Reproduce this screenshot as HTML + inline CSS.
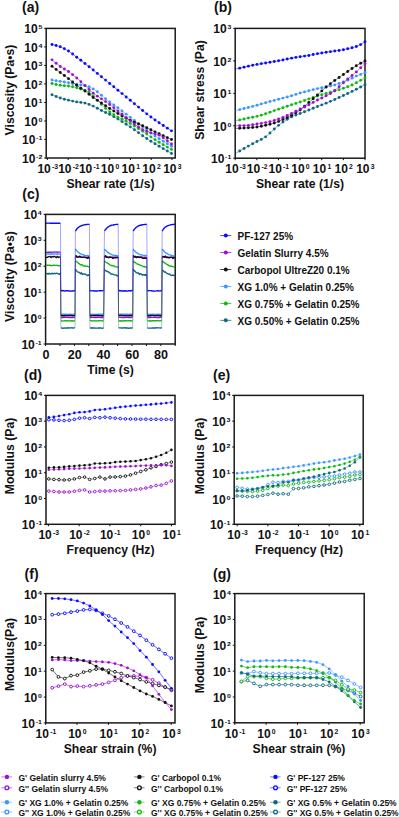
<!DOCTYPE html>
<html><head><meta charset="utf-8"><style>html,body{margin:0;padding:0;background:#fff;width:399px;height:817px;overflow:hidden}svg{display:block}</style></head>
<body>
<svg width="399" height="817" viewBox="0 0 399 817" font-family='"Liberation Sans", sans-serif' fill="#111">
<rect width="399" height="817" fill="#fff"/>
<text x="22.00" y="11.80" font-size="14" text-anchor="start" font-weight="bold" >(a)</text>
<text x="214.00" y="11.60" font-size="14" text-anchor="start" font-weight="bold" >(b)</text>
<text x="22.30" y="198.60" font-size="14" text-anchor="start" font-weight="bold" >(c)</text>
<text x="24.00" y="379.80" font-size="14" text-anchor="start" font-weight="bold" >(d)</text>
<text x="213.00" y="379.90" font-size="14" text-anchor="start" font-weight="bold" >(e)</text>
<text x="24.60" y="578.50" font-size="14" text-anchor="start" font-weight="bold" >(f)</text>
<text x="213.00" y="579.10" font-size="14" text-anchor="start" font-weight="bold" >(g)</text>
<rect x="46.20" y="28.40" width="129.00" height="129.60" fill="none" stroke="#1a1a1a" stroke-width="1.5"/>
<line x1="44.20" y1="158.00" x2="46.20" y2="158.00" stroke="#111" stroke-width="1"/>
<text transform="translate(35.38,163.00) scale(1.0,1)" font-size="12" text-anchor="end" font-weight="bold">10</text>
<text transform="translate(42.30,159.00) scale(1,0.72)" font-size="7" text-anchor="end" font-weight="bold">-2</text>
<line x1="44.20" y1="139.49" x2="46.20" y2="139.49" stroke="#111" stroke-width="1"/>
<text transform="translate(35.38,144.49) scale(1.0,1)" font-size="12" text-anchor="end" font-weight="bold">10</text>
<text transform="translate(42.30,140.49) scale(1,0.72)" font-size="7" text-anchor="end" font-weight="bold">-1</text>
<line x1="44.20" y1="120.97" x2="46.20" y2="120.97" stroke="#111" stroke-width="1"/>
<text transform="translate(37.71,125.97) scale(1.0,1)" font-size="12" text-anchor="end" font-weight="bold">10</text>
<text transform="translate(42.30,121.97) scale(1,0.72)" font-size="7" text-anchor="end" font-weight="bold">0</text>
<line x1="44.20" y1="102.46" x2="46.20" y2="102.46" stroke="#111" stroke-width="1"/>
<text transform="translate(37.71,107.46) scale(1.0,1)" font-size="12" text-anchor="end" font-weight="bold">10</text>
<text transform="translate(42.30,103.46) scale(1,0.72)" font-size="7" text-anchor="end" font-weight="bold">1</text>
<line x1="44.20" y1="83.94" x2="46.20" y2="83.94" stroke="#111" stroke-width="1"/>
<text transform="translate(37.71,88.94) scale(1.0,1)" font-size="12" text-anchor="end" font-weight="bold">10</text>
<text transform="translate(42.30,84.94) scale(1,0.72)" font-size="7" text-anchor="end" font-weight="bold">2</text>
<line x1="44.20" y1="65.43" x2="46.20" y2="65.43" stroke="#111" stroke-width="1"/>
<text transform="translate(37.71,70.43) scale(1.0,1)" font-size="12" text-anchor="end" font-weight="bold">10</text>
<text transform="translate(42.30,66.43) scale(1,0.72)" font-size="7" text-anchor="end" font-weight="bold">3</text>
<line x1="44.20" y1="46.91" x2="46.20" y2="46.91" stroke="#111" stroke-width="1"/>
<text transform="translate(37.71,51.91) scale(1.0,1)" font-size="12" text-anchor="end" font-weight="bold">10</text>
<text transform="translate(42.30,47.91) scale(1,0.72)" font-size="7" text-anchor="end" font-weight="bold">4</text>
<line x1="44.20" y1="28.40" x2="46.20" y2="28.40" stroke="#111" stroke-width="1"/>
<text transform="translate(37.71,33.40) scale(1.0,1)" font-size="12" text-anchor="end" font-weight="bold">10</text>
<text transform="translate(42.30,29.40) scale(1,0.72)" font-size="7" text-anchor="end" font-weight="bold">5</text>
<line x1="47.40" y1="158.00" x2="47.40" y2="160.00" stroke="#111" stroke-width="1"/>
<text transform="translate(37.41,172.85) scale(1.0,1)" font-size="12" font-weight="bold">10</text>
<text transform="translate(51.95,169.10) scale(1,0.95)" font-size="6.8" font-weight="bold">-3</text>
<line x1="68.17" y1="158.00" x2="68.17" y2="160.00" stroke="#111" stroke-width="1"/>
<text transform="translate(58.17,172.85) scale(1.0,1)" font-size="12" font-weight="bold">10</text>
<text transform="translate(72.72,169.10) scale(1,0.95)" font-size="6.8" font-weight="bold">-2</text>
<line x1="88.93" y1="158.00" x2="88.93" y2="160.00" stroke="#111" stroke-width="1"/>
<text transform="translate(78.94,172.85) scale(1.0,1)" font-size="12" font-weight="bold">10</text>
<text transform="translate(93.48,169.10) scale(1,0.95)" font-size="6.8" font-weight="bold">-1</text>
<line x1="109.70" y1="158.00" x2="109.70" y2="160.00" stroke="#111" stroke-width="1"/>
<text transform="translate(100.84,172.85) scale(1.0,1)" font-size="12" font-weight="bold">10</text>
<text transform="translate(115.38,169.10) scale(1,0.95)" font-size="6.8" font-weight="bold">0</text>
<line x1="130.47" y1="158.00" x2="130.47" y2="160.00" stroke="#111" stroke-width="1"/>
<text transform="translate(121.60,172.85) scale(1.0,1)" font-size="12" font-weight="bold">10</text>
<text transform="translate(136.15,169.10) scale(1,0.95)" font-size="6.8" font-weight="bold">1</text>
<line x1="151.23" y1="158.00" x2="151.23" y2="160.00" stroke="#111" stroke-width="1"/>
<text transform="translate(142.37,172.85) scale(1.0,1)" font-size="12" font-weight="bold">10</text>
<text transform="translate(156.91,169.10) scale(1,0.95)" font-size="6.8" font-weight="bold">2</text>
<line x1="172.00" y1="158.00" x2="172.00" y2="160.00" stroke="#111" stroke-width="1"/>
<text transform="translate(163.14,172.85) scale(1.0,1)" font-size="12" font-weight="bold">10</text>
<text transform="translate(177.68,169.10) scale(1,0.95)" font-size="6.8" font-weight="bold">3</text>
<text transform="translate(14.30,90.00) rotate(-90)" font-size="12.2" text-anchor="middle" font-weight="bold">Viscosity (Pa•s)</text>
<text x="110.50" y="188.00" font-size="12.2" text-anchor="middle" font-weight="bold" >Shear rate (1/s)</text>
<path d="M52.00,94.72 L56.12,96.45 L60.24,98.01 L64.36,99.18 L68.48,100.15 L72.60,101.09 L76.72,101.90 L80.84,102.42 L84.96,103.12 L89.08,104.42 L93.20,106.11 L97.32,108.26 L101.44,110.57 L105.56,112.43 L109.68,114.31 L113.80,116.65 L117.92,119.09 L122.04,121.60 L126.16,124.18 L130.28,126.83 L134.40,129.68 L138.52,132.79 L142.64,135.81 L146.76,138.57 L150.88,141.18 L155.00,143.72 L159.12,146.21 L163.24,148.65 L167.36,151.07 L171.48,153.49" fill="none" stroke="#0f6680" stroke-width="0.6" opacity="0.85"/>
<circle cx="52.00" cy="94.72" r="1.45" fill="#0f6680"/>
<circle cx="56.12" cy="96.45" r="1.45" fill="#0f6680"/>
<circle cx="60.24" cy="98.01" r="1.45" fill="#0f6680"/>
<circle cx="64.36" cy="99.18" r="1.45" fill="#0f6680"/>
<circle cx="68.48" cy="100.15" r="1.45" fill="#0f6680"/>
<circle cx="72.60" cy="101.09" r="1.45" fill="#0f6680"/>
<circle cx="76.72" cy="101.90" r="1.45" fill="#0f6680"/>
<circle cx="80.84" cy="102.42" r="1.45" fill="#0f6680"/>
<circle cx="84.96" cy="103.12" r="1.45" fill="#0f6680"/>
<circle cx="89.08" cy="104.42" r="1.45" fill="#0f6680"/>
<circle cx="93.20" cy="106.11" r="1.45" fill="#0f6680"/>
<circle cx="97.32" cy="108.26" r="1.45" fill="#0f6680"/>
<circle cx="101.44" cy="110.57" r="1.45" fill="#0f6680"/>
<circle cx="105.56" cy="112.43" r="1.45" fill="#0f6680"/>
<circle cx="109.68" cy="114.31" r="1.45" fill="#0f6680"/>
<circle cx="113.80" cy="116.65" r="1.45" fill="#0f6680"/>
<circle cx="117.92" cy="119.09" r="1.45" fill="#0f6680"/>
<circle cx="122.04" cy="121.60" r="1.45" fill="#0f6680"/>
<circle cx="126.16" cy="124.18" r="1.45" fill="#0f6680"/>
<circle cx="130.28" cy="126.83" r="1.45" fill="#0f6680"/>
<circle cx="134.40" cy="129.68" r="1.45" fill="#0f6680"/>
<circle cx="138.52" cy="132.79" r="1.45" fill="#0f6680"/>
<circle cx="142.64" cy="135.81" r="1.45" fill="#0f6680"/>
<circle cx="146.76" cy="138.57" r="1.45" fill="#0f6680"/>
<circle cx="150.88" cy="141.18" r="1.45" fill="#0f6680"/>
<circle cx="155.00" cy="143.72" r="1.45" fill="#0f6680"/>
<circle cx="159.12" cy="146.21" r="1.45" fill="#0f6680"/>
<circle cx="163.24" cy="148.65" r="1.45" fill="#0f6680"/>
<circle cx="167.36" cy="151.07" r="1.45" fill="#0f6680"/>
<circle cx="171.48" cy="153.49" r="1.45" fill="#0f6680"/>
<path d="M52.00,83.47 L56.12,84.46 L60.24,85.31 L64.36,85.70 L68.48,86.07 L72.60,86.81 L76.72,87.81 L80.84,89.03 L84.96,90.42 L89.08,92.08 L93.20,95.93 L97.32,100.12 L101.44,104.37 L105.56,108.39 L109.68,111.88 L113.80,114.72 L117.92,117.08 L122.04,119.20 L126.16,121.26 L130.28,123.48 L134.40,125.98 L138.52,128.63 L142.64,131.33 L146.76,134.07 L150.88,136.87 L155.00,139.65 L159.12,142.32 L163.24,144.79 L167.36,147.11 L171.48,149.40" fill="none" stroke="#10b810" stroke-width="0.6" opacity="0.85"/>
<circle cx="52.00" cy="83.47" r="1.45" fill="#10b810"/>
<circle cx="56.12" cy="84.46" r="1.45" fill="#10b810"/>
<circle cx="60.24" cy="85.31" r="1.45" fill="#10b810"/>
<circle cx="64.36" cy="85.70" r="1.45" fill="#10b810"/>
<circle cx="68.48" cy="86.07" r="1.45" fill="#10b810"/>
<circle cx="72.60" cy="86.81" r="1.45" fill="#10b810"/>
<circle cx="76.72" cy="87.81" r="1.45" fill="#10b810"/>
<circle cx="80.84" cy="89.03" r="1.45" fill="#10b810"/>
<circle cx="84.96" cy="90.42" r="1.45" fill="#10b810"/>
<circle cx="89.08" cy="92.08" r="1.45" fill="#10b810"/>
<circle cx="93.20" cy="95.93" r="1.45" fill="#10b810"/>
<circle cx="97.32" cy="100.12" r="1.45" fill="#10b810"/>
<circle cx="101.44" cy="104.37" r="1.45" fill="#10b810"/>
<circle cx="105.56" cy="108.39" r="1.45" fill="#10b810"/>
<circle cx="109.68" cy="111.88" r="1.45" fill="#10b810"/>
<circle cx="113.80" cy="114.72" r="1.45" fill="#10b810"/>
<circle cx="117.92" cy="117.08" r="1.45" fill="#10b810"/>
<circle cx="122.04" cy="119.20" r="1.45" fill="#10b810"/>
<circle cx="126.16" cy="121.26" r="1.45" fill="#10b810"/>
<circle cx="130.28" cy="123.48" r="1.45" fill="#10b810"/>
<circle cx="134.40" cy="125.98" r="1.45" fill="#10b810"/>
<circle cx="138.52" cy="128.63" r="1.45" fill="#10b810"/>
<circle cx="142.64" cy="131.33" r="1.45" fill="#10b810"/>
<circle cx="146.76" cy="134.07" r="1.45" fill="#10b810"/>
<circle cx="150.88" cy="136.87" r="1.45" fill="#10b810"/>
<circle cx="155.00" cy="139.65" r="1.45" fill="#10b810"/>
<circle cx="159.12" cy="142.32" r="1.45" fill="#10b810"/>
<circle cx="163.24" cy="144.79" r="1.45" fill="#10b810"/>
<circle cx="167.36" cy="147.11" r="1.45" fill="#10b810"/>
<circle cx="171.48" cy="149.40" r="1.45" fill="#10b810"/>
<path d="M52.00,80.05 L56.12,80.73 L60.24,81.41 L64.36,82.02 L68.48,82.66 L72.60,83.48 L76.72,84.30 L80.84,84.93 L84.96,85.61 L89.08,86.79 L93.20,88.88 L97.32,91.80 L101.44,95.20 L105.56,98.70 L109.68,101.99 L113.80,104.90 L117.92,107.79 L122.04,110.93 L126.16,114.15 L130.28,117.35 L134.40,120.50 L138.52,123.67 L142.64,126.84 L146.76,129.97 L150.88,133.03 L155.00,135.99 L159.12,138.75 L163.24,141.31 L167.36,143.78 L171.48,146.28" fill="none" stroke="#3c96ff" stroke-width="0.6" opacity="0.85"/>
<circle cx="52.00" cy="80.05" r="1.45" fill="#3c96ff"/>
<circle cx="56.12" cy="80.73" r="1.45" fill="#3c96ff"/>
<circle cx="60.24" cy="81.41" r="1.45" fill="#3c96ff"/>
<circle cx="64.36" cy="82.02" r="1.45" fill="#3c96ff"/>
<circle cx="68.48" cy="82.66" r="1.45" fill="#3c96ff"/>
<circle cx="72.60" cy="83.48" r="1.45" fill="#3c96ff"/>
<circle cx="76.72" cy="84.30" r="1.45" fill="#3c96ff"/>
<circle cx="80.84" cy="84.93" r="1.45" fill="#3c96ff"/>
<circle cx="84.96" cy="85.61" r="1.45" fill="#3c96ff"/>
<circle cx="89.08" cy="86.79" r="1.45" fill="#3c96ff"/>
<circle cx="93.20" cy="88.88" r="1.45" fill="#3c96ff"/>
<circle cx="97.32" cy="91.80" r="1.45" fill="#3c96ff"/>
<circle cx="101.44" cy="95.20" r="1.45" fill="#3c96ff"/>
<circle cx="105.56" cy="98.70" r="1.45" fill="#3c96ff"/>
<circle cx="109.68" cy="101.99" r="1.45" fill="#3c96ff"/>
<circle cx="113.80" cy="104.90" r="1.45" fill="#3c96ff"/>
<circle cx="117.92" cy="107.79" r="1.45" fill="#3c96ff"/>
<circle cx="122.04" cy="110.93" r="1.45" fill="#3c96ff"/>
<circle cx="126.16" cy="114.15" r="1.45" fill="#3c96ff"/>
<circle cx="130.28" cy="117.35" r="1.45" fill="#3c96ff"/>
<circle cx="134.40" cy="120.50" r="1.45" fill="#3c96ff"/>
<circle cx="138.52" cy="123.67" r="1.45" fill="#3c96ff"/>
<circle cx="142.64" cy="126.84" r="1.45" fill="#3c96ff"/>
<circle cx="146.76" cy="129.97" r="1.45" fill="#3c96ff"/>
<circle cx="150.88" cy="133.03" r="1.45" fill="#3c96ff"/>
<circle cx="155.00" cy="135.99" r="1.45" fill="#3c96ff"/>
<circle cx="159.12" cy="138.75" r="1.45" fill="#3c96ff"/>
<circle cx="163.24" cy="141.31" r="1.45" fill="#3c96ff"/>
<circle cx="167.36" cy="143.78" r="1.45" fill="#3c96ff"/>
<circle cx="171.48" cy="146.28" r="1.45" fill="#3c96ff"/>
<path d="M52.00,66.23 L56.12,69.39 L60.24,72.53 L64.36,75.56 L68.48,78.63 L72.60,81.99 L76.72,85.31 L80.84,88.15 L84.96,90.97 L89.08,94.27 L93.20,97.55 L97.32,100.36 L101.44,103.00 L105.56,105.77 L109.68,108.49 L113.80,111.04 L117.92,113.53 L122.04,115.94 L126.16,118.19 L130.28,120.26 L134.40,122.14 L138.52,123.92 L142.64,125.74 L146.76,127.73 L150.88,129.81 L155.00,131.86 L159.12,133.81 L163.24,135.73 L167.36,137.64 L171.48,139.56" fill="none" stroke="#111111" stroke-width="0.6" opacity="0.85"/>
<circle cx="52.00" cy="66.23" r="1.45" fill="#111111"/>
<circle cx="56.12" cy="69.39" r="1.45" fill="#111111"/>
<circle cx="60.24" cy="72.53" r="1.45" fill="#111111"/>
<circle cx="64.36" cy="75.56" r="1.45" fill="#111111"/>
<circle cx="68.48" cy="78.63" r="1.45" fill="#111111"/>
<circle cx="72.60" cy="81.99" r="1.45" fill="#111111"/>
<circle cx="76.72" cy="85.31" r="1.45" fill="#111111"/>
<circle cx="80.84" cy="88.15" r="1.45" fill="#111111"/>
<circle cx="84.96" cy="90.97" r="1.45" fill="#111111"/>
<circle cx="89.08" cy="94.27" r="1.45" fill="#111111"/>
<circle cx="93.20" cy="97.55" r="1.45" fill="#111111"/>
<circle cx="97.32" cy="100.36" r="1.45" fill="#111111"/>
<circle cx="101.44" cy="103.00" r="1.45" fill="#111111"/>
<circle cx="105.56" cy="105.77" r="1.45" fill="#111111"/>
<circle cx="109.68" cy="108.49" r="1.45" fill="#111111"/>
<circle cx="113.80" cy="111.04" r="1.45" fill="#111111"/>
<circle cx="117.92" cy="113.53" r="1.45" fill="#111111"/>
<circle cx="122.04" cy="115.94" r="1.45" fill="#111111"/>
<circle cx="126.16" cy="118.19" r="1.45" fill="#111111"/>
<circle cx="130.28" cy="120.26" r="1.45" fill="#111111"/>
<circle cx="134.40" cy="122.14" r="1.45" fill="#111111"/>
<circle cx="138.52" cy="123.92" r="1.45" fill="#111111"/>
<circle cx="142.64" cy="125.74" r="1.45" fill="#111111"/>
<circle cx="146.76" cy="127.73" r="1.45" fill="#111111"/>
<circle cx="150.88" cy="129.81" r="1.45" fill="#111111"/>
<circle cx="155.00" cy="131.86" r="1.45" fill="#111111"/>
<circle cx="159.12" cy="133.81" r="1.45" fill="#111111"/>
<circle cx="163.24" cy="135.73" r="1.45" fill="#111111"/>
<circle cx="167.36" cy="137.64" r="1.45" fill="#111111"/>
<circle cx="171.48" cy="139.56" r="1.45" fill="#111111"/>
<path d="M52.00,59.84 L56.12,63.23 L60.24,66.43 L64.36,69.01 L68.48,71.55 L72.60,74.62 L76.72,78.02 L80.84,81.72 L84.96,85.56 L89.08,89.49 L93.20,93.15 L97.32,96.13 L101.44,98.86 L105.56,101.58 L109.68,104.49 L113.80,107.65 L117.92,110.95 L122.04,114.30 L126.16,117.62 L130.28,120.85 L134.40,123.96 L138.52,126.93 L142.64,129.58 L146.76,131.52 L150.88,132.86 L155.00,133.86 L159.12,135.15 L163.24,137.73 L167.36,140.80 L171.48,143.93" fill="none" stroke="#9a10d0" stroke-width="0.6" opacity="0.85"/>
<circle cx="52.00" cy="59.84" r="1.45" fill="#9a10d0"/>
<circle cx="56.12" cy="63.23" r="1.45" fill="#9a10d0"/>
<circle cx="60.24" cy="66.43" r="1.45" fill="#9a10d0"/>
<circle cx="64.36" cy="69.01" r="1.45" fill="#9a10d0"/>
<circle cx="68.48" cy="71.55" r="1.45" fill="#9a10d0"/>
<circle cx="72.60" cy="74.62" r="1.45" fill="#9a10d0"/>
<circle cx="76.72" cy="78.02" r="1.45" fill="#9a10d0"/>
<circle cx="80.84" cy="81.72" r="1.45" fill="#9a10d0"/>
<circle cx="84.96" cy="85.56" r="1.45" fill="#9a10d0"/>
<circle cx="89.08" cy="89.49" r="1.45" fill="#9a10d0"/>
<circle cx="93.20" cy="93.15" r="1.45" fill="#9a10d0"/>
<circle cx="97.32" cy="96.13" r="1.45" fill="#9a10d0"/>
<circle cx="101.44" cy="98.86" r="1.45" fill="#9a10d0"/>
<circle cx="105.56" cy="101.58" r="1.45" fill="#9a10d0"/>
<circle cx="109.68" cy="104.49" r="1.45" fill="#9a10d0"/>
<circle cx="113.80" cy="107.65" r="1.45" fill="#9a10d0"/>
<circle cx="117.92" cy="110.95" r="1.45" fill="#9a10d0"/>
<circle cx="122.04" cy="114.30" r="1.45" fill="#9a10d0"/>
<circle cx="126.16" cy="117.62" r="1.45" fill="#9a10d0"/>
<circle cx="130.28" cy="120.85" r="1.45" fill="#9a10d0"/>
<circle cx="134.40" cy="123.96" r="1.45" fill="#9a10d0"/>
<circle cx="138.52" cy="126.93" r="1.45" fill="#9a10d0"/>
<circle cx="142.64" cy="129.58" r="1.45" fill="#9a10d0"/>
<circle cx="146.76" cy="131.52" r="1.45" fill="#9a10d0"/>
<circle cx="150.88" cy="132.86" r="1.45" fill="#9a10d0"/>
<circle cx="155.00" cy="133.86" r="1.45" fill="#9a10d0"/>
<circle cx="159.12" cy="135.15" r="1.45" fill="#9a10d0"/>
<circle cx="163.24" cy="137.73" r="1.45" fill="#9a10d0"/>
<circle cx="167.36" cy="140.80" r="1.45" fill="#9a10d0"/>
<circle cx="171.48" cy="143.93" r="1.45" fill="#9a10d0"/>
<path d="M52.00,44.48 L56.12,45.52 L60.24,46.82 L64.36,48.71 L68.48,51.06 L72.60,54.00 L76.72,57.22 L80.84,60.31 L84.96,63.47 L89.08,66.74 L93.20,70.05 L97.32,73.38 L101.44,76.73 L105.56,80.08 L109.68,83.45 L113.80,86.82 L117.92,90.20 L122.04,93.58 L126.16,96.95 L130.28,100.31 L134.40,103.69 L138.52,107.11 L142.64,110.51 L146.76,113.83 L150.88,116.99 L155.00,119.95 L159.12,122.76 L163.24,125.46 L167.36,128.14 L171.48,130.85" fill="none" stroke="#0a0aff" stroke-width="0.6" opacity="0.85"/>
<circle cx="52.00" cy="44.48" r="1.45" fill="#0a0aff"/>
<circle cx="56.12" cy="45.52" r="1.45" fill="#0a0aff"/>
<circle cx="60.24" cy="46.82" r="1.45" fill="#0a0aff"/>
<circle cx="64.36" cy="48.71" r="1.45" fill="#0a0aff"/>
<circle cx="68.48" cy="51.06" r="1.45" fill="#0a0aff"/>
<circle cx="72.60" cy="54.00" r="1.45" fill="#0a0aff"/>
<circle cx="76.72" cy="57.22" r="1.45" fill="#0a0aff"/>
<circle cx="80.84" cy="60.31" r="1.45" fill="#0a0aff"/>
<circle cx="84.96" cy="63.47" r="1.45" fill="#0a0aff"/>
<circle cx="89.08" cy="66.74" r="1.45" fill="#0a0aff"/>
<circle cx="93.20" cy="70.05" r="1.45" fill="#0a0aff"/>
<circle cx="97.32" cy="73.38" r="1.45" fill="#0a0aff"/>
<circle cx="101.44" cy="76.73" r="1.45" fill="#0a0aff"/>
<circle cx="105.56" cy="80.08" r="1.45" fill="#0a0aff"/>
<circle cx="109.68" cy="83.45" r="1.45" fill="#0a0aff"/>
<circle cx="113.80" cy="86.82" r="1.45" fill="#0a0aff"/>
<circle cx="117.92" cy="90.20" r="1.45" fill="#0a0aff"/>
<circle cx="122.04" cy="93.58" r="1.45" fill="#0a0aff"/>
<circle cx="126.16" cy="96.95" r="1.45" fill="#0a0aff"/>
<circle cx="130.28" cy="100.31" r="1.45" fill="#0a0aff"/>
<circle cx="134.40" cy="103.69" r="1.45" fill="#0a0aff"/>
<circle cx="138.52" cy="107.11" r="1.45" fill="#0a0aff"/>
<circle cx="142.64" cy="110.51" r="1.45" fill="#0a0aff"/>
<circle cx="146.76" cy="113.83" r="1.45" fill="#0a0aff"/>
<circle cx="150.88" cy="116.99" r="1.45" fill="#0a0aff"/>
<circle cx="155.00" cy="119.95" r="1.45" fill="#0a0aff"/>
<circle cx="159.12" cy="122.76" r="1.45" fill="#0a0aff"/>
<circle cx="163.24" cy="125.46" r="1.45" fill="#0a0aff"/>
<circle cx="167.36" cy="128.14" r="1.45" fill="#0a0aff"/>
<circle cx="171.48" cy="130.85" r="1.45" fill="#0a0aff"/>
<rect x="235.20" y="28.40" width="129.80" height="129.80" fill="none" stroke="#1a1a1a" stroke-width="1.5"/>
<line x1="233.20" y1="158.20" x2="235.20" y2="158.20" stroke="#111" stroke-width="1"/>
<text transform="translate(224.38,163.20) scale(1.0,1)" font-size="12" text-anchor="end" font-weight="bold">10</text>
<text transform="translate(231.30,159.20) scale(1,0.72)" font-size="7" text-anchor="end" font-weight="bold">-1</text>
<line x1="233.20" y1="125.75" x2="235.20" y2="125.75" stroke="#111" stroke-width="1"/>
<text transform="translate(226.71,130.75) scale(1.0,1)" font-size="12" text-anchor="end" font-weight="bold">10</text>
<text transform="translate(231.30,126.75) scale(1,0.72)" font-size="7" text-anchor="end" font-weight="bold">0</text>
<line x1="233.20" y1="93.30" x2="235.20" y2="93.30" stroke="#111" stroke-width="1"/>
<text transform="translate(226.71,98.30) scale(1.0,1)" font-size="12" text-anchor="end" font-weight="bold">10</text>
<text transform="translate(231.30,94.30) scale(1,0.72)" font-size="7" text-anchor="end" font-weight="bold">1</text>
<line x1="233.20" y1="60.85" x2="235.20" y2="60.85" stroke="#111" stroke-width="1"/>
<text transform="translate(226.71,65.85) scale(1.0,1)" font-size="12" text-anchor="end" font-weight="bold">10</text>
<text transform="translate(231.30,61.85) scale(1,0.72)" font-size="7" text-anchor="end" font-weight="bold">2</text>
<line x1="233.20" y1="28.40" x2="235.20" y2="28.40" stroke="#111" stroke-width="1"/>
<text transform="translate(226.71,33.40) scale(1.0,1)" font-size="12" text-anchor="end" font-weight="bold">10</text>
<text transform="translate(231.30,29.40) scale(1,0.72)" font-size="7" text-anchor="end" font-weight="bold">3</text>
<line x1="235.20" y1="158.20" x2="235.20" y2="160.20" stroke="#111" stroke-width="1"/>
<text transform="translate(225.21,173.05) scale(1.0,1)" font-size="12" font-weight="bold">10</text>
<text transform="translate(239.75,169.30) scale(1,0.95)" font-size="6.8" font-weight="bold">-3</text>
<line x1="256.83" y1="158.20" x2="256.83" y2="160.20" stroke="#111" stroke-width="1"/>
<text transform="translate(246.84,173.05) scale(1.0,1)" font-size="12" font-weight="bold">10</text>
<text transform="translate(261.38,169.30) scale(1,0.95)" font-size="6.8" font-weight="bold">-2</text>
<line x1="278.47" y1="158.20" x2="278.47" y2="160.20" stroke="#111" stroke-width="1"/>
<text transform="translate(268.47,173.05) scale(1.0,1)" font-size="12" font-weight="bold">10</text>
<text transform="translate(283.02,169.30) scale(1,0.95)" font-size="6.8" font-weight="bold">-1</text>
<line x1="300.10" y1="158.20" x2="300.10" y2="160.20" stroke="#111" stroke-width="1"/>
<text transform="translate(291.24,173.05) scale(1.0,1)" font-size="12" font-weight="bold">10</text>
<text transform="translate(305.78,169.30) scale(1,0.95)" font-size="6.8" font-weight="bold">0</text>
<line x1="321.73" y1="158.20" x2="321.73" y2="160.20" stroke="#111" stroke-width="1"/>
<text transform="translate(312.87,173.05) scale(1.0,1)" font-size="12" font-weight="bold">10</text>
<text transform="translate(327.41,169.30) scale(1,0.95)" font-size="6.8" font-weight="bold">1</text>
<line x1="343.37" y1="158.20" x2="343.37" y2="160.20" stroke="#111" stroke-width="1"/>
<text transform="translate(334.50,173.05) scale(1.0,1)" font-size="12" font-weight="bold">10</text>
<text transform="translate(349.05,169.30) scale(1,0.95)" font-size="6.8" font-weight="bold">2</text>
<line x1="365.00" y1="158.20" x2="365.00" y2="160.20" stroke="#111" stroke-width="1"/>
<text transform="translate(356.14,173.05) scale(1.0,1)" font-size="12" font-weight="bold">10</text>
<text transform="translate(370.68,169.30) scale(1,0.95)" font-size="6.8" font-weight="bold">3</text>
<text transform="translate(204.00,90.00) rotate(-90)" font-size="12.2" text-anchor="middle" font-weight="bold">Shear stress (Pa)</text>
<text x="300.00" y="188.20" font-size="12.2" text-anchor="middle" font-weight="bold" >Shear rate (1/s)</text>
<line x1="235.4" y1="153.44" x2="239.72" y2="150.99" stroke="#0f6680" stroke-width="0.6" opacity="0.85"/>
<path d="M239.72,150.99 L244.04,148.54 L248.36,146.11 L252.68,143.75 L257.00,141.44 L261.32,139.40 L265.64,136.85 L269.96,133.00 L274.28,128.96 L278.60,125.37 L282.92,122.12 L287.24,119.31 L291.56,116.92 L295.88,115.08 L300.20,113.48 L304.52,111.74 L308.84,110.00 L313.16,108.28 L317.48,106.57 L321.80,104.86 L326.12,103.14 L330.44,101.37 L334.76,99.51 L339.08,97.54 L343.40,95.53 L347.72,93.49 L352.04,91.39 L356.36,89.22 L360.68,87.01 L365.00,84.80" fill="none" stroke="#0f6680" stroke-width="0.6" opacity="0.85"/>
<circle cx="239.72" cy="150.99" r="1.45" fill="#0f6680"/>
<circle cx="244.04" cy="148.54" r="1.45" fill="#0f6680"/>
<circle cx="248.36" cy="146.11" r="1.45" fill="#0f6680"/>
<circle cx="252.68" cy="143.75" r="1.45" fill="#0f6680"/>
<circle cx="257.00" cy="141.44" r="1.45" fill="#0f6680"/>
<circle cx="261.32" cy="139.40" r="1.45" fill="#0f6680"/>
<circle cx="265.64" cy="136.85" r="1.45" fill="#0f6680"/>
<circle cx="269.96" cy="133.00" r="1.45" fill="#0f6680"/>
<circle cx="274.28" cy="128.96" r="1.45" fill="#0f6680"/>
<circle cx="278.60" cy="125.37" r="1.45" fill="#0f6680"/>
<circle cx="282.92" cy="122.12" r="1.45" fill="#0f6680"/>
<circle cx="287.24" cy="119.31" r="1.45" fill="#0f6680"/>
<circle cx="291.56" cy="116.92" r="1.45" fill="#0f6680"/>
<circle cx="295.88" cy="115.08" r="1.45" fill="#0f6680"/>
<circle cx="300.20" cy="113.48" r="1.45" fill="#0f6680"/>
<circle cx="304.52" cy="111.74" r="1.45" fill="#0f6680"/>
<circle cx="308.84" cy="110.00" r="1.45" fill="#0f6680"/>
<circle cx="313.16" cy="108.28" r="1.45" fill="#0f6680"/>
<circle cx="317.48" cy="106.57" r="1.45" fill="#0f6680"/>
<circle cx="321.80" cy="104.86" r="1.45" fill="#0f6680"/>
<circle cx="326.12" cy="103.14" r="1.45" fill="#0f6680"/>
<circle cx="330.44" cy="101.37" r="1.45" fill="#0f6680"/>
<circle cx="334.76" cy="99.51" r="1.45" fill="#0f6680"/>
<circle cx="339.08" cy="97.54" r="1.45" fill="#0f6680"/>
<circle cx="343.40" cy="95.53" r="1.45" fill="#0f6680"/>
<circle cx="347.72" cy="93.49" r="1.45" fill="#0f6680"/>
<circle cx="352.04" cy="91.39" r="1.45" fill="#0f6680"/>
<circle cx="356.36" cy="89.22" r="1.45" fill="#0f6680"/>
<circle cx="360.68" cy="87.01" r="1.45" fill="#0f6680"/>
<circle cx="365.00" cy="84.80" r="1.45" fill="#0f6680"/>
<line x1="235.4" y1="120.82" x2="239.72" y2="119.90" stroke="#10b810" stroke-width="0.6" opacity="0.85"/>
<path d="M239.72,119.90 L244.04,118.97 L248.36,118.07 L252.68,117.25 L257.00,116.33 L261.32,115.13 L265.64,113.75 L269.96,112.18 L274.28,110.60 L278.60,109.14 L282.92,107.69 L287.24,106.20 L291.56,104.75 L295.88,103.42 L300.20,102.03 L304.52,100.50 L308.84,98.92 L313.16,97.38 L317.48,95.95 L321.80,94.68 L326.12,93.50 L330.44,92.30 L334.76,91.00 L339.08,89.66 L343.40,88.28 L347.72,86.74 L352.04,84.95 L356.36,82.77 L360.68,80.37 L365.00,78.00" fill="none" stroke="#10b810" stroke-width="0.6" opacity="0.85"/>
<circle cx="239.72" cy="119.90" r="1.45" fill="#10b810"/>
<circle cx="244.04" cy="118.97" r="1.45" fill="#10b810"/>
<circle cx="248.36" cy="118.07" r="1.45" fill="#10b810"/>
<circle cx="252.68" cy="117.25" r="1.45" fill="#10b810"/>
<circle cx="257.00" cy="116.33" r="1.45" fill="#10b810"/>
<circle cx="261.32" cy="115.13" r="1.45" fill="#10b810"/>
<circle cx="265.64" cy="113.75" r="1.45" fill="#10b810"/>
<circle cx="269.96" cy="112.18" r="1.45" fill="#10b810"/>
<circle cx="274.28" cy="110.60" r="1.45" fill="#10b810"/>
<circle cx="278.60" cy="109.14" r="1.45" fill="#10b810"/>
<circle cx="282.92" cy="107.69" r="1.45" fill="#10b810"/>
<circle cx="287.24" cy="106.20" r="1.45" fill="#10b810"/>
<circle cx="291.56" cy="104.75" r="1.45" fill="#10b810"/>
<circle cx="295.88" cy="103.42" r="1.45" fill="#10b810"/>
<circle cx="300.20" cy="102.03" r="1.45" fill="#10b810"/>
<circle cx="304.52" cy="100.50" r="1.45" fill="#10b810"/>
<circle cx="308.84" cy="98.92" r="1.45" fill="#10b810"/>
<circle cx="313.16" cy="97.38" r="1.45" fill="#10b810"/>
<circle cx="317.48" cy="95.95" r="1.45" fill="#10b810"/>
<circle cx="321.80" cy="94.68" r="1.45" fill="#10b810"/>
<circle cx="326.12" cy="93.50" r="1.45" fill="#10b810"/>
<circle cx="330.44" cy="92.30" r="1.45" fill="#10b810"/>
<circle cx="334.76" cy="91.00" r="1.45" fill="#10b810"/>
<circle cx="339.08" cy="89.66" r="1.45" fill="#10b810"/>
<circle cx="343.40" cy="88.28" r="1.45" fill="#10b810"/>
<circle cx="347.72" cy="86.74" r="1.45" fill="#10b810"/>
<circle cx="352.04" cy="84.95" r="1.45" fill="#10b810"/>
<circle cx="356.36" cy="82.77" r="1.45" fill="#10b810"/>
<circle cx="360.68" cy="80.37" r="1.45" fill="#10b810"/>
<circle cx="365.00" cy="78.00" r="1.45" fill="#10b810"/>
<line x1="235.4" y1="110.63" x2="239.72" y2="109.60" stroke="#3c96ff" stroke-width="0.6" opacity="0.85"/>
<path d="M239.72,109.60 L244.04,108.56 L248.36,107.53 L252.68,106.42 L257.00,105.20 L261.32,103.92 L265.64,102.68 L269.96,101.51 L274.28,100.38 L278.60,99.24 L282.92,98.12 L287.24,96.98 L291.56,95.78 L295.88,94.38 L300.20,93.06 L304.52,91.88 L308.84,90.74 L313.16,89.65 L317.48,88.62 L321.80,87.74 L326.12,86.93 L330.44,86.04 L334.76,84.93 L339.08,83.52 L343.40,81.90 L347.72,80.17 L352.04,78.13 L356.36,76.11 L360.68,74.42 L365.00,72.80" fill="none" stroke="#3c96ff" stroke-width="0.6" opacity="0.85"/>
<circle cx="239.72" cy="109.60" r="1.45" fill="#3c96ff"/>
<circle cx="244.04" cy="108.56" r="1.45" fill="#3c96ff"/>
<circle cx="248.36" cy="107.53" r="1.45" fill="#3c96ff"/>
<circle cx="252.68" cy="106.42" r="1.45" fill="#3c96ff"/>
<circle cx="257.00" cy="105.20" r="1.45" fill="#3c96ff"/>
<circle cx="261.32" cy="103.92" r="1.45" fill="#3c96ff"/>
<circle cx="265.64" cy="102.68" r="1.45" fill="#3c96ff"/>
<circle cx="269.96" cy="101.51" r="1.45" fill="#3c96ff"/>
<circle cx="274.28" cy="100.38" r="1.45" fill="#3c96ff"/>
<circle cx="278.60" cy="99.24" r="1.45" fill="#3c96ff"/>
<circle cx="282.92" cy="98.12" r="1.45" fill="#3c96ff"/>
<circle cx="287.24" cy="96.98" r="1.45" fill="#3c96ff"/>
<circle cx="291.56" cy="95.78" r="1.45" fill="#3c96ff"/>
<circle cx="295.88" cy="94.38" r="1.45" fill="#3c96ff"/>
<circle cx="300.20" cy="93.06" r="1.45" fill="#3c96ff"/>
<circle cx="304.52" cy="91.88" r="1.45" fill="#3c96ff"/>
<circle cx="308.84" cy="90.74" r="1.45" fill="#3c96ff"/>
<circle cx="313.16" cy="89.65" r="1.45" fill="#3c96ff"/>
<circle cx="317.48" cy="88.62" r="1.45" fill="#3c96ff"/>
<circle cx="321.80" cy="87.74" r="1.45" fill="#3c96ff"/>
<circle cx="326.12" cy="86.93" r="1.45" fill="#3c96ff"/>
<circle cx="330.44" cy="86.04" r="1.45" fill="#3c96ff"/>
<circle cx="334.76" cy="84.93" r="1.45" fill="#3c96ff"/>
<circle cx="339.08" cy="83.52" r="1.45" fill="#3c96ff"/>
<circle cx="343.40" cy="81.90" r="1.45" fill="#3c96ff"/>
<circle cx="347.72" cy="80.17" r="1.45" fill="#3c96ff"/>
<circle cx="352.04" cy="78.13" r="1.45" fill="#3c96ff"/>
<circle cx="356.36" cy="76.11" r="1.45" fill="#3c96ff"/>
<circle cx="360.68" cy="74.42" r="1.45" fill="#3c96ff"/>
<circle cx="365.00" cy="72.80" r="1.45" fill="#3c96ff"/>
<line x1="235.4" y1="128.38" x2="239.72" y2="128.20" stroke="#111111" stroke-width="0.6" opacity="0.85"/>
<path d="M239.72,128.20 L244.04,128.01 L248.36,127.79 L252.68,127.51 L257.00,127.06 L261.32,126.27 L265.64,125.30 L269.96,124.28 L274.28,123.01 L278.60,121.38 L282.92,119.52 L287.24,117.46 L291.56,115.19 L295.88,112.78 L300.20,109.93 L304.52,106.28 L308.84,102.45 L313.16,98.78 L317.48,94.99 L321.80,90.88 L326.12,87.01 L330.44,83.65 L334.76,80.51 L339.08,77.45 L343.40,74.45 L347.72,71.48 L352.04,68.51 L356.36,65.72 L360.68,63.26 L365.00,60.90" fill="none" stroke="#111111" stroke-width="0.6" opacity="0.85"/>
<circle cx="239.72" cy="128.20" r="1.45" fill="#111111"/>
<circle cx="244.04" cy="128.01" r="1.45" fill="#111111"/>
<circle cx="248.36" cy="127.79" r="1.45" fill="#111111"/>
<circle cx="252.68" cy="127.51" r="1.45" fill="#111111"/>
<circle cx="257.00" cy="127.06" r="1.45" fill="#111111"/>
<circle cx="261.32" cy="126.27" r="1.45" fill="#111111"/>
<circle cx="265.64" cy="125.30" r="1.45" fill="#111111"/>
<circle cx="269.96" cy="124.28" r="1.45" fill="#111111"/>
<circle cx="274.28" cy="123.01" r="1.45" fill="#111111"/>
<circle cx="278.60" cy="121.38" r="1.45" fill="#111111"/>
<circle cx="282.92" cy="119.52" r="1.45" fill="#111111"/>
<circle cx="287.24" cy="117.46" r="1.45" fill="#111111"/>
<circle cx="291.56" cy="115.19" r="1.45" fill="#111111"/>
<circle cx="295.88" cy="112.78" r="1.45" fill="#111111"/>
<circle cx="300.20" cy="109.93" r="1.45" fill="#111111"/>
<circle cx="304.52" cy="106.28" r="1.45" fill="#111111"/>
<circle cx="308.84" cy="102.45" r="1.45" fill="#111111"/>
<circle cx="313.16" cy="98.78" r="1.45" fill="#111111"/>
<circle cx="317.48" cy="94.99" r="1.45" fill="#111111"/>
<circle cx="321.80" cy="90.88" r="1.45" fill="#111111"/>
<circle cx="326.12" cy="87.01" r="1.45" fill="#111111"/>
<circle cx="330.44" cy="83.65" r="1.45" fill="#111111"/>
<circle cx="334.76" cy="80.51" r="1.45" fill="#111111"/>
<circle cx="339.08" cy="77.45" r="1.45" fill="#111111"/>
<circle cx="343.40" cy="74.45" r="1.45" fill="#111111"/>
<circle cx="347.72" cy="71.48" r="1.45" fill="#111111"/>
<circle cx="352.04" cy="68.51" r="1.45" fill="#111111"/>
<circle cx="356.36" cy="65.72" r="1.45" fill="#111111"/>
<circle cx="360.68" cy="63.26" r="1.45" fill="#111111"/>
<circle cx="365.00" cy="60.90" r="1.45" fill="#111111"/>
<line x1="235.4" y1="125.79" x2="239.72" y2="125.70" stroke="#9a10d0" stroke-width="0.6" opacity="0.85"/>
<path d="M239.72,125.70 L244.04,125.61 L248.36,125.38 L252.68,124.78 L257.00,124.05 L261.32,123.39 L265.64,122.61 L269.96,121.69 L274.28,120.52 L278.60,119.03 L282.92,117.35 L287.24,115.54 L291.56,113.53 L295.88,111.22 L300.20,108.95 L304.52,106.96 L308.84,104.86 L313.16,102.39 L317.48,100.00 L321.80,97.93 L326.12,95.77 L330.44,93.51 L334.76,90.54 L339.08,86.80 L343.40,82.80 L347.72,78.93 L352.04,75.48 L356.36,71.89 L360.68,67.76 L365.00,63.50" fill="none" stroke="#9a10d0" stroke-width="0.6" opacity="0.85"/>
<circle cx="239.72" cy="125.70" r="1.45" fill="#9a10d0"/>
<circle cx="244.04" cy="125.61" r="1.45" fill="#9a10d0"/>
<circle cx="248.36" cy="125.38" r="1.45" fill="#9a10d0"/>
<circle cx="252.68" cy="124.78" r="1.45" fill="#9a10d0"/>
<circle cx="257.00" cy="124.05" r="1.45" fill="#9a10d0"/>
<circle cx="261.32" cy="123.39" r="1.45" fill="#9a10d0"/>
<circle cx="265.64" cy="122.61" r="1.45" fill="#9a10d0"/>
<circle cx="269.96" cy="121.69" r="1.45" fill="#9a10d0"/>
<circle cx="274.28" cy="120.52" r="1.45" fill="#9a10d0"/>
<circle cx="278.60" cy="119.03" r="1.45" fill="#9a10d0"/>
<circle cx="282.92" cy="117.35" r="1.45" fill="#9a10d0"/>
<circle cx="287.24" cy="115.54" r="1.45" fill="#9a10d0"/>
<circle cx="291.56" cy="113.53" r="1.45" fill="#9a10d0"/>
<circle cx="295.88" cy="111.22" r="1.45" fill="#9a10d0"/>
<circle cx="300.20" cy="108.95" r="1.45" fill="#9a10d0"/>
<circle cx="304.52" cy="106.96" r="1.45" fill="#9a10d0"/>
<circle cx="308.84" cy="104.86" r="1.45" fill="#9a10d0"/>
<circle cx="313.16" cy="102.39" r="1.45" fill="#9a10d0"/>
<circle cx="317.48" cy="100.00" r="1.45" fill="#9a10d0"/>
<circle cx="321.80" cy="97.93" r="1.45" fill="#9a10d0"/>
<circle cx="326.12" cy="95.77" r="1.45" fill="#9a10d0"/>
<circle cx="330.44" cy="93.51" r="1.45" fill="#9a10d0"/>
<circle cx="334.76" cy="90.54" r="1.45" fill="#9a10d0"/>
<circle cx="339.08" cy="86.80" r="1.45" fill="#9a10d0"/>
<circle cx="343.40" cy="82.80" r="1.45" fill="#9a10d0"/>
<circle cx="347.72" cy="78.93" r="1.45" fill="#9a10d0"/>
<circle cx="352.04" cy="75.48" r="1.45" fill="#9a10d0"/>
<circle cx="356.36" cy="71.89" r="1.45" fill="#9a10d0"/>
<circle cx="360.68" cy="67.76" r="1.45" fill="#9a10d0"/>
<circle cx="365.00" cy="63.50" r="1.45" fill="#9a10d0"/>
<line x1="235.4" y1="69.12" x2="239.72" y2="68.13" stroke="#0a0aff" stroke-width="0.6" opacity="0.85"/>
<path d="M239.72,68.13 L244.04,67.13 L248.36,66.14 L252.68,65.22 L257.00,64.42 L261.32,63.67 L265.64,62.94 L269.96,62.24 L274.28,61.55 L278.60,60.80 L282.92,59.95 L287.24,59.04 L291.56,58.17 L295.88,57.39 L300.20,56.68 L304.52,56.10 L308.84,55.46 L313.16,54.55 L317.48,53.66 L321.80,52.94 L326.12,52.28 L330.44,51.67 L334.76,51.06 L339.08,50.43 L343.40,49.70 L347.72,48.81 L352.04,47.80 L356.36,46.56 L360.68,44.58 L365.00,41.70" fill="none" stroke="#0a0aff" stroke-width="0.6" opacity="0.85"/>
<circle cx="239.72" cy="68.13" r="1.45" fill="#0a0aff"/>
<circle cx="244.04" cy="67.13" r="1.45" fill="#0a0aff"/>
<circle cx="248.36" cy="66.14" r="1.45" fill="#0a0aff"/>
<circle cx="252.68" cy="65.22" r="1.45" fill="#0a0aff"/>
<circle cx="257.00" cy="64.42" r="1.45" fill="#0a0aff"/>
<circle cx="261.32" cy="63.67" r="1.45" fill="#0a0aff"/>
<circle cx="265.64" cy="62.94" r="1.45" fill="#0a0aff"/>
<circle cx="269.96" cy="62.24" r="1.45" fill="#0a0aff"/>
<circle cx="274.28" cy="61.55" r="1.45" fill="#0a0aff"/>
<circle cx="278.60" cy="60.80" r="1.45" fill="#0a0aff"/>
<circle cx="282.92" cy="59.95" r="1.45" fill="#0a0aff"/>
<circle cx="287.24" cy="59.04" r="1.45" fill="#0a0aff"/>
<circle cx="291.56" cy="58.17" r="1.45" fill="#0a0aff"/>
<circle cx="295.88" cy="57.39" r="1.45" fill="#0a0aff"/>
<circle cx="300.20" cy="56.68" r="1.45" fill="#0a0aff"/>
<circle cx="304.52" cy="56.10" r="1.45" fill="#0a0aff"/>
<circle cx="308.84" cy="55.46" r="1.45" fill="#0a0aff"/>
<circle cx="313.16" cy="54.55" r="1.45" fill="#0a0aff"/>
<circle cx="317.48" cy="53.66" r="1.45" fill="#0a0aff"/>
<circle cx="321.80" cy="52.94" r="1.45" fill="#0a0aff"/>
<circle cx="326.12" cy="52.28" r="1.45" fill="#0a0aff"/>
<circle cx="330.44" cy="51.67" r="1.45" fill="#0a0aff"/>
<circle cx="334.76" cy="51.06" r="1.45" fill="#0a0aff"/>
<circle cx="339.08" cy="50.43" r="1.45" fill="#0a0aff"/>
<circle cx="343.40" cy="49.70" r="1.45" fill="#0a0aff"/>
<circle cx="347.72" cy="48.81" r="1.45" fill="#0a0aff"/>
<circle cx="352.04" cy="47.80" r="1.45" fill="#0a0aff"/>
<circle cx="356.36" cy="46.56" r="1.45" fill="#0a0aff"/>
<circle cx="360.68" cy="44.58" r="1.45" fill="#0a0aff"/>
<circle cx="365.00" cy="41.70" r="1.45" fill="#0a0aff"/>
<rect x="45.60" y="214.40" width="129.60" height="129.60" fill="none" stroke="#1a1a1a" stroke-width="1.5"/>
<line x1="43.60" y1="344.00" x2="45.60" y2="344.00" stroke="#111" stroke-width="1"/>
<text transform="translate(34.78,349.00) scale(1.0,1)" font-size="12" text-anchor="end" font-weight="bold">10</text>
<text transform="translate(41.70,345.00) scale(1,0.72)" font-size="7" text-anchor="end" font-weight="bold">-1</text>
<line x1="43.60" y1="318.08" x2="45.60" y2="318.08" stroke="#111" stroke-width="1"/>
<text transform="translate(37.11,323.08) scale(1.0,1)" font-size="12" text-anchor="end" font-weight="bold">10</text>
<text transform="translate(41.70,319.08) scale(1,0.72)" font-size="7" text-anchor="end" font-weight="bold">0</text>
<line x1="43.60" y1="292.16" x2="45.60" y2="292.16" stroke="#111" stroke-width="1"/>
<text transform="translate(37.11,297.16) scale(1.0,1)" font-size="12" text-anchor="end" font-weight="bold">10</text>
<text transform="translate(41.70,293.16) scale(1,0.72)" font-size="7" text-anchor="end" font-weight="bold">1</text>
<line x1="43.60" y1="266.24" x2="45.60" y2="266.24" stroke="#111" stroke-width="1"/>
<text transform="translate(37.11,271.24) scale(1.0,1)" font-size="12" text-anchor="end" font-weight="bold">10</text>
<text transform="translate(41.70,267.24) scale(1,0.72)" font-size="7" text-anchor="end" font-weight="bold">2</text>
<line x1="43.60" y1="240.32" x2="45.60" y2="240.32" stroke="#111" stroke-width="1"/>
<text transform="translate(37.11,245.32) scale(1.0,1)" font-size="12" text-anchor="end" font-weight="bold">10</text>
<text transform="translate(41.70,241.32) scale(1,0.72)" font-size="7" text-anchor="end" font-weight="bold">3</text>
<line x1="43.60" y1="214.40" x2="45.60" y2="214.40" stroke="#111" stroke-width="1"/>
<text transform="translate(37.11,219.40) scale(1.0,1)" font-size="12" text-anchor="end" font-weight="bold">10</text>
<text transform="translate(41.70,215.40) scale(1,0.72)" font-size="7" text-anchor="end" font-weight="bold">4</text>
<text transform="translate(14.30,276.50) rotate(-90)" font-size="12.2" text-anchor="middle" font-weight="bold">Viscosity (Pa•s)</text>
<text x="110.50" y="374.00" font-size="12.2" text-anchor="middle" font-weight="bold" >Time (s)</text>
<line x1="45.60" y1="344.0" x2="45.60" y2="346.0" stroke="#111" stroke-width="1"/>
<line x1="60.00" y1="344.0" x2="60.00" y2="346.0" stroke="#111" stroke-width="1"/>
<line x1="74.40" y1="344.0" x2="74.40" y2="346.0" stroke="#111" stroke-width="1"/>
<line x1="88.80" y1="344.0" x2="88.80" y2="346.0" stroke="#111" stroke-width="1"/>
<line x1="103.20" y1="344.0" x2="103.20" y2="346.0" stroke="#111" stroke-width="1"/>
<line x1="117.60" y1="344.0" x2="117.60" y2="346.0" stroke="#111" stroke-width="1"/>
<line x1="132.00" y1="344.0" x2="132.00" y2="346.0" stroke="#111" stroke-width="1"/>
<line x1="146.40" y1="344.0" x2="146.40" y2="346.0" stroke="#111" stroke-width="1"/>
<line x1="160.80" y1="344.0" x2="160.80" y2="346.0" stroke="#111" stroke-width="1"/>
<line x1="175.20" y1="344.0" x2="175.20" y2="346.0" stroke="#111" stroke-width="1"/>
<text x="45.90" y="358.60" font-size="12.6" text-anchor="middle" font-weight="bold" >0</text>
<text x="74.70" y="358.60" font-size="12.6" text-anchor="middle" font-weight="bold" >20</text>
<text x="103.50" y="358.60" font-size="12.6" text-anchor="middle" font-weight="bold" >40</text>
<text x="132.30" y="358.60" font-size="12.6" text-anchor="middle" font-weight="bold" >60</text>
<text x="161.10" y="358.60" font-size="12.6" text-anchor="middle" font-weight="bold" >80</text>
<line x1="60.40" y1="273.37" x2="60.90" y2="328.08" stroke="#0f6680" stroke-width="0.8" opacity="0.45"/>
<line x1="75.00" y1="327.90" x2="75.40" y2="269.21" stroke="#0f6680" stroke-width="0.8" opacity="0.45"/>
<line x1="89.40" y1="275.61" x2="89.90" y2="327.96" stroke="#0f6680" stroke-width="0.8" opacity="0.45"/>
<line x1="103.60" y1="327.86" x2="104.50" y2="269.79" stroke="#0f6680" stroke-width="0.8" opacity="0.45"/>
<line x1="118.20" y1="275.78" x2="118.60" y2="327.87" stroke="#0f6680" stroke-width="0.8" opacity="0.45"/>
<line x1="132.70" y1="328.07" x2="133.20" y2="269.24" stroke="#0f6680" stroke-width="0.8" opacity="0.45"/>
<line x1="146.80" y1="275.74" x2="147.30" y2="327.82" stroke="#0f6680" stroke-width="0.8" opacity="0.45"/>
<line x1="161.70" y1="327.82" x2="162.20" y2="269.97" stroke="#0f6680" stroke-width="0.8" opacity="0.45"/>
<path d="M46.00,273.65 L47.03,273.41 L48.06,274.11 L49.09,273.30 L50.11,273.95 L51.14,273.71 L52.17,273.28 L53.20,273.91 L54.23,273.25 L55.26,273.81 L56.29,273.30 L57.31,273.33 L58.34,273.79 L59.37,274.36 L60.40,273.37" fill="none" stroke="#0f6680" stroke-width="1.4"/>
<path d="M75.40,269.21 L76.40,270.69 L77.40,271.92 L78.40,272.09 L79.40,272.43 L80.40,273.75 L81.40,272.89 L82.40,274.42 L83.40,273.95 L84.40,274.04 L85.40,274.25 L86.40,274.74 L87.40,275.64 L88.40,274.91 L89.40,275.61" fill="none" stroke="#0f6680" stroke-width="1.4"/>
<path d="M104.50,269.79 L105.55,270.39 L106.61,271.47 L107.66,271.51 L108.72,272.12 L109.77,272.85 L110.82,273.97 L111.88,274.00 L112.93,274.17 L113.98,274.83 L115.04,274.89 L116.09,274.89 L117.15,275.76 L118.20,275.78" fill="none" stroke="#0f6680" stroke-width="1.4"/>
<path d="M133.20,269.24 L134.25,270.68 L135.29,271.44 L136.34,272.65 L137.38,273.06 L138.43,272.96 L139.48,274.38 L140.52,273.56 L141.57,274.32 L142.62,275.07 L143.66,274.47 L144.71,275.15 L145.75,274.70 L146.80,275.74" fill="none" stroke="#0f6680" stroke-width="1.4"/>
<path d="M162.20,269.97 L163.27,270.75 L164.33,272.06 L165.40,272.02 L166.47,273.19 L167.53,273.59 L168.60,274.03 L169.67,274.24 L170.73,275.10 L171.80,275.52 L172.87,275.10 L173.93,275.56 L175.00,274.88" fill="none" stroke="#0f6680" stroke-width="1.4"/>
<path d="M60.90,328.08 L61.91,328.06 L62.91,328.20 L63.92,328.13 L64.93,327.91 L65.94,327.95 L66.94,328.07 L67.95,327.81 L68.96,327.98 L69.96,327.87 L70.97,327.85 L71.98,327.82 L72.99,328.11 L73.99,327.85 L75.00,327.90" fill="none" stroke="#0f6680" stroke-width="1.4"/>
<path d="M89.90,327.96 L90.95,328.15 L92.01,327.83 L93.06,327.98 L94.12,328.02 L95.17,328.15 L96.22,328.13 L97.28,328.15 L98.33,327.91 L99.38,327.97 L100.44,327.94 L101.49,328.15 L102.55,328.18 L103.60,327.86" fill="none" stroke="#0f6680" stroke-width="1.4"/>
<path d="M118.60,327.87 L119.61,327.89 L120.61,327.89 L121.62,327.99 L122.63,328.04 L123.64,327.91 L124.64,327.80 L125.65,327.97 L126.66,327.95 L127.66,328.03 L128.67,328.18 L129.68,328.08 L130.69,328.01 L131.69,328.05 L132.70,328.07" fill="none" stroke="#0f6680" stroke-width="1.4"/>
<path d="M147.30,327.82 L148.33,328.16 L149.36,328.11 L150.39,328.15 L151.41,328.12 L152.44,327.96 L153.47,327.96 L154.50,327.84 L155.53,328.05 L156.56,327.82 L157.59,327.83 L158.61,327.88 L159.64,327.86 L160.67,327.94 L161.70,327.82" fill="none" stroke="#0f6680" stroke-width="1.4"/>
<line x1="60.40" y1="265.47" x2="60.90" y2="320.86" stroke="#10b810" stroke-width="0.8" opacity="0.45"/>
<line x1="75.00" y1="320.67" x2="75.40" y2="260.79" stroke="#10b810" stroke-width="0.8" opacity="0.45"/>
<line x1="89.40" y1="267.18" x2="89.90" y2="320.65" stroke="#10b810" stroke-width="0.8" opacity="0.45"/>
<line x1="103.60" y1="320.86" x2="104.50" y2="261.09" stroke="#10b810" stroke-width="0.8" opacity="0.45"/>
<line x1="118.20" y1="267.04" x2="118.60" y2="320.81" stroke="#10b810" stroke-width="0.8" opacity="0.45"/>
<line x1="132.70" y1="320.74" x2="133.20" y2="261.05" stroke="#10b810" stroke-width="0.8" opacity="0.45"/>
<line x1="146.80" y1="267.19" x2="147.30" y2="320.78" stroke="#10b810" stroke-width="0.8" opacity="0.45"/>
<line x1="161.70" y1="320.79" x2="162.20" y2="261.16" stroke="#10b810" stroke-width="0.8" opacity="0.45"/>
<path d="M46.00,265.10 L47.03,265.22 L48.06,265.18 L49.09,265.39 L50.11,265.12 L51.14,265.80 L52.17,265.59 L53.20,265.22 L54.23,265.30 L55.26,265.38 L56.29,265.39 L57.31,265.20 L58.34,265.78 L59.37,265.89 L60.40,265.47" fill="none" stroke="#10b810" stroke-width="1.4"/>
<path d="M75.40,260.79 L76.40,261.46 L77.40,262.31 L78.40,263.22 L79.40,263.77 L80.40,264.75 L81.40,264.66 L82.40,264.93 L83.40,266.00 L84.40,265.94 L85.40,265.87 L86.40,266.39 L87.40,266.15 L88.40,266.70 L89.40,267.18" fill="none" stroke="#10b810" stroke-width="1.4"/>
<path d="M104.50,261.09 L105.55,262.01 L106.61,262.56 L107.66,263.39 L108.72,263.87 L109.77,264.88 L110.82,265.14 L111.88,265.72 L112.93,265.68 L113.98,265.86 L115.04,266.56 L116.09,266.89 L117.15,266.95 L118.20,267.04" fill="none" stroke="#10b810" stroke-width="1.4"/>
<path d="M133.20,261.05 L134.25,262.05 L135.29,262.53 L136.34,263.51 L137.38,264.02 L138.43,264.29 L139.48,264.74 L140.52,265.32 L141.57,265.62 L142.62,266.24 L143.66,266.68 L144.71,266.46 L145.75,267.01 L146.80,267.19" fill="none" stroke="#10b810" stroke-width="1.4"/>
<path d="M162.20,261.16 L163.27,261.83 L164.33,262.66 L165.40,263.45 L166.47,264.08 L167.53,264.63 L168.60,265.41 L169.67,266.01 L170.73,266.27 L171.80,266.24 L172.87,266.60 L173.93,266.89 L175.00,266.47" fill="none" stroke="#10b810" stroke-width="1.4"/>
<path d="M60.90,320.86 L61.91,320.96 L62.91,320.91 L63.92,320.90 L64.93,320.79 L65.94,320.67 L66.94,320.92 L67.95,320.73 L68.96,320.92 L69.96,320.99 L70.97,320.76 L71.98,320.76 L72.99,320.98 L73.99,320.89 L75.00,320.67" fill="none" stroke="#10b810" stroke-width="1.4"/>
<path d="M89.90,320.65 L90.95,320.66 L92.01,320.96 L93.06,320.92 L94.12,320.66 L95.17,320.93 L96.22,320.99 L97.28,320.86 L98.33,320.74 L99.38,320.82 L100.44,320.65 L101.49,320.61 L102.55,320.99 L103.60,320.86" fill="none" stroke="#10b810" stroke-width="1.4"/>
<path d="M118.60,320.81 L119.61,320.97 L120.61,320.77 L121.62,320.95 L122.63,320.93 L123.64,320.68 L124.64,320.70 L125.65,320.72 L126.66,320.70 L127.66,320.83 L128.67,320.70 L129.68,320.77 L130.69,320.65 L131.69,320.96 L132.70,320.74" fill="none" stroke="#10b810" stroke-width="1.4"/>
<path d="M147.30,320.78 L148.33,320.83 L149.36,320.96 L150.39,320.77 L151.41,320.97 L152.44,320.80 L153.47,320.81 L154.50,320.81 L155.53,320.61 L156.56,320.78 L157.59,320.67 L158.61,320.60 L159.64,320.92 L160.67,320.67 L161.70,320.79" fill="none" stroke="#10b810" stroke-width="1.4"/>
<line x1="60.40" y1="254.25" x2="60.90" y2="314.21" stroke="#3c96ff" stroke-width="0.8" opacity="0.45"/>
<line x1="75.00" y1="314.12" x2="75.40" y2="248.97" stroke="#3c96ff" stroke-width="0.8" opacity="0.45"/>
<line x1="89.40" y1="256.07" x2="89.90" y2="314.38" stroke="#3c96ff" stroke-width="0.8" opacity="0.45"/>
<line x1="103.60" y1="314.47" x2="104.50" y2="249.20" stroke="#3c96ff" stroke-width="0.8" opacity="0.45"/>
<line x1="118.20" y1="255.59" x2="118.60" y2="314.21" stroke="#3c96ff" stroke-width="0.8" opacity="0.45"/>
<line x1="132.70" y1="314.24" x2="133.20" y2="249.23" stroke="#3c96ff" stroke-width="0.8" opacity="0.45"/>
<line x1="146.80" y1="255.69" x2="147.30" y2="314.11" stroke="#3c96ff" stroke-width="0.8" opacity="0.45"/>
<line x1="161.70" y1="314.30" x2="162.20" y2="249.13" stroke="#3c96ff" stroke-width="0.8" opacity="0.45"/>
<path d="M46.00,254.14 L47.03,254.03 L48.06,253.90 L49.09,254.01 L50.11,254.03 L51.14,254.17 L52.17,253.76 L53.20,254.04 L54.23,253.85 L55.26,253.87 L56.29,254.16 L57.31,254.00 L58.34,254.04 L59.37,254.16 L60.40,254.25" fill="none" stroke="#3c96ff" stroke-width="1.4"/>
<path d="M75.40,248.97 L76.40,250.40 L77.40,251.42 L78.40,252.31 L79.40,253.14 L80.40,253.59 L81.40,254.11 L82.40,254.47 L83.40,255.07 L84.40,255.18 L85.40,255.50 L86.40,255.72 L87.40,255.45 L88.40,255.74 L89.40,256.07" fill="none" stroke="#3c96ff" stroke-width="1.4"/>
<path d="M104.50,249.20 L105.55,250.21 L106.61,251.34 L107.66,252.45 L108.72,252.96 L109.77,253.65 L110.82,254.03 L111.88,254.77 L112.93,255.14 L113.98,255.45 L115.04,255.21 L116.09,255.70 L117.15,255.79 L118.20,255.59" fill="none" stroke="#3c96ff" stroke-width="1.4"/>
<path d="M133.20,249.23 L134.25,250.70 L135.29,251.40 L136.34,252.75 L137.38,253.16 L138.43,253.80 L139.48,254.58 L140.52,254.86 L141.57,254.77 L142.62,255.18 L143.66,255.42 L144.71,255.47 L145.75,255.52 L146.80,255.69" fill="none" stroke="#3c96ff" stroke-width="1.4"/>
<path d="M162.20,249.13 L163.27,250.24 L164.33,251.77 L165.40,252.65 L166.47,253.14 L167.53,253.92 L168.60,254.56 L169.67,254.86 L170.73,254.88 L171.80,255.66 L172.87,255.72 L173.93,255.97 L175.00,255.56" fill="none" stroke="#3c96ff" stroke-width="1.4"/>
<path d="M60.90,314.21 L61.91,314.12 L62.91,314.41 L63.92,314.21 L64.93,314.15 L65.94,314.27 L66.94,314.46 L67.95,314.43 L68.96,314.20 L69.96,314.16 L70.97,314.47 L71.98,314.33 L72.99,314.38 L73.99,314.14 L75.00,314.12" fill="none" stroke="#3c96ff" stroke-width="1.4"/>
<path d="M89.90,314.38 L90.95,314.27 L92.01,314.13 L93.06,314.48 L94.12,314.35 L95.17,314.42 L96.22,314.13 L97.28,314.44 L98.33,314.13 L99.38,314.45 L100.44,314.28 L101.49,314.24 L102.55,314.32 L103.60,314.47" fill="none" stroke="#3c96ff" stroke-width="1.4"/>
<path d="M118.60,314.21 L119.61,314.15 L120.61,314.31 L121.62,314.20 L122.63,314.14 L123.64,314.16 L124.64,314.12 L125.65,314.18 L126.66,314.22 L127.66,314.22 L128.67,314.40 L129.68,314.22 L130.69,314.30 L131.69,314.17 L132.70,314.24" fill="none" stroke="#3c96ff" stroke-width="1.4"/>
<path d="M147.30,314.11 L148.33,314.20 L149.36,314.11 L150.39,314.39 L151.41,314.32 L152.44,314.18 L153.47,314.29 L154.50,314.47 L155.53,314.14 L156.56,314.43 L157.59,314.27 L158.61,314.30 L159.64,314.43 L160.67,314.26 L161.70,314.30" fill="none" stroke="#3c96ff" stroke-width="1.4"/>
<line x1="60.40" y1="252.08" x2="60.90" y2="317.56" stroke="#9a10d0" stroke-width="0.8" opacity="0.45"/>
<line x1="75.00" y1="317.20" x2="75.40" y2="257.10" stroke="#9a10d0" stroke-width="0.8" opacity="0.45"/>
<line x1="89.40" y1="257.44" x2="89.90" y2="317.52" stroke="#9a10d0" stroke-width="0.8" opacity="0.45"/>
<line x1="103.60" y1="317.59" x2="104.50" y2="256.94" stroke="#9a10d0" stroke-width="0.8" opacity="0.45"/>
<line x1="118.20" y1="257.16" x2="118.60" y2="317.40" stroke="#9a10d0" stroke-width="0.8" opacity="0.45"/>
<line x1="132.70" y1="317.22" x2="133.20" y2="256.94" stroke="#9a10d0" stroke-width="0.8" opacity="0.45"/>
<line x1="146.80" y1="257.34" x2="147.30" y2="317.31" stroke="#9a10d0" stroke-width="0.8" opacity="0.45"/>
<line x1="161.70" y1="317.38" x2="162.20" y2="256.86" stroke="#9a10d0" stroke-width="0.8" opacity="0.45"/>
<path d="M46.00,252.26 L47.03,252.34 L48.06,252.15 L49.09,252.30 L50.11,252.26 L51.14,252.24 L52.17,252.17 L53.20,252.15 L54.23,252.07 L55.26,252.09 L56.29,252.07 L57.31,252.27 L58.34,252.13 L59.37,252.10 L60.40,252.08" fill="none" stroke="#9a10d0" stroke-width="1.4"/>
<path d="M75.40,257.10 L76.40,257.16 L77.40,257.14 L78.40,257.06 L79.40,257.07 L80.40,257.12 L81.40,257.19 L82.40,257.12 L83.40,257.22 L84.40,257.18 L85.40,257.40 L86.40,257.42 L87.40,257.30 L88.40,257.22 L89.40,257.44" fill="none" stroke="#9a10d0" stroke-width="1.4"/>
<path d="M104.50,256.94 L105.55,257.01 L106.61,256.94 L107.66,257.09 L108.72,257.15 L109.77,257.19 L110.82,257.12 L111.88,257.23 L112.93,257.10 L113.98,257.19 L115.04,257.15 L116.09,257.25 L117.15,257.15 L118.20,257.16" fill="none" stroke="#9a10d0" stroke-width="1.4"/>
<path d="M133.20,256.94 L134.25,256.97 L135.29,257.12 L136.34,257.14 L137.38,257.23 L138.43,257.23 L139.48,257.27 L140.52,257.34 L141.57,257.21 L142.62,257.21 L143.66,257.42 L144.71,257.18 L145.75,257.36 L146.80,257.34" fill="none" stroke="#9a10d0" stroke-width="1.4"/>
<path d="M162.20,256.86 L163.27,257.15 L164.33,257.22 L165.40,257.17 L166.47,257.24 L167.53,257.29 L168.60,257.11 L169.67,257.25 L170.73,257.26 L171.80,257.37 L172.87,257.37 L173.93,257.39 L175.00,257.33" fill="none" stroke="#9a10d0" stroke-width="1.4"/>
<path d="M60.90,317.56 L61.91,317.47 L62.91,317.48 L63.92,317.29 L64.93,317.21 L65.94,317.25 L66.94,317.34 L67.95,317.24 L68.96,317.53 L69.96,317.42 L70.97,317.45 L71.98,317.45 L72.99,317.47 L73.99,317.40 L75.00,317.20" fill="none" stroke="#9a10d0" stroke-width="1.4"/>
<path d="M89.90,317.52 L90.95,317.50 L92.01,317.40 L93.06,317.41 L94.12,317.46 L95.17,317.23 L96.22,317.49 L97.28,317.30 L98.33,317.23 L99.38,317.31 L100.44,317.49 L101.49,317.28 L102.55,317.50 L103.60,317.59" fill="none" stroke="#9a10d0" stroke-width="1.4"/>
<path d="M118.60,317.40 L119.61,317.35 L120.61,317.39 L121.62,317.47 L122.63,317.51 L123.64,317.45 L124.64,317.46 L125.65,317.23 L126.66,317.26 L127.66,317.30 L128.67,317.50 L129.68,317.32 L130.69,317.43 L131.69,317.20 L132.70,317.22" fill="none" stroke="#9a10d0" stroke-width="1.4"/>
<path d="M147.30,317.31 L148.33,317.47 L149.36,317.48 L150.39,317.47 L151.41,317.32 L152.44,317.41 L153.47,317.39 L154.50,317.39 L155.53,317.25 L156.56,317.56 L157.59,317.28 L158.61,317.59 L159.64,317.57 L160.67,317.21 L161.70,317.38" fill="none" stroke="#9a10d0" stroke-width="1.4"/>
<line x1="60.40" y1="257.44" x2="60.90" y2="315.54" stroke="#111111" stroke-width="0.8" opacity="0.45"/>
<line x1="75.00" y1="315.49" x2="75.40" y2="256.28" stroke="#111111" stroke-width="0.8" opacity="0.45"/>
<line x1="89.40" y1="258.35" x2="89.90" y2="315.76" stroke="#111111" stroke-width="0.8" opacity="0.45"/>
<line x1="103.60" y1="315.57" x2="104.50" y2="256.47" stroke="#111111" stroke-width="0.8" opacity="0.45"/>
<line x1="118.20" y1="257.37" x2="118.60" y2="315.57" stroke="#111111" stroke-width="0.8" opacity="0.45"/>
<line x1="132.70" y1="315.56" x2="133.20" y2="255.44" stroke="#111111" stroke-width="0.8" opacity="0.45"/>
<line x1="146.80" y1="258.58" x2="147.30" y2="315.58" stroke="#111111" stroke-width="0.8" opacity="0.45"/>
<line x1="161.70" y1="315.74" x2="162.20" y2="256.62" stroke="#111111" stroke-width="0.8" opacity="0.45"/>
<path d="M46.00,257.35 L47.03,257.56 L48.06,256.83 L49.09,256.58 L50.11,256.49 L51.14,257.52 L52.17,256.49 L53.20,257.01 L54.23,256.40 L55.26,256.93 L56.29,257.53 L57.31,256.39 L58.34,257.35 L59.37,256.91 L60.40,257.44" fill="none" stroke="#111111" stroke-width="1.4"/>
<path d="M75.40,256.28 L76.40,255.93 L77.40,257.13 L78.40,256.79 L79.40,256.34 L80.40,256.49 L81.40,257.32 L82.40,257.39 L83.40,257.30 L84.40,257.17 L85.40,257.54 L86.40,257.58 L87.40,258.37 L88.40,257.25 L89.40,258.35" fill="none" stroke="#111111" stroke-width="1.4"/>
<path d="M104.50,256.47 L105.55,255.80 L106.61,257.21 L107.66,257.15 L108.72,257.63 L109.77,256.95 L110.82,257.22 L111.88,257.38 L112.93,258.34 L113.98,257.86 L115.04,257.62 L116.09,257.79 L117.15,257.63 L118.20,257.37" fill="none" stroke="#111111" stroke-width="1.4"/>
<path d="M133.20,255.44 L134.25,256.80 L135.29,256.31 L136.34,257.46 L137.38,256.71 L138.43,256.91 L139.48,257.41 L140.52,257.09 L141.57,257.46 L142.62,258.37 L143.66,258.35 L144.71,258.32 L145.75,258.13 L146.80,258.58" fill="none" stroke="#111111" stroke-width="1.4"/>
<path d="M162.20,256.62 L163.27,256.42 L164.33,256.96 L165.40,256.28 L166.47,257.45 L167.53,257.24 L168.60,257.82 L169.67,257.80 L170.73,257.40 L171.80,257.17 L172.87,258.47 L173.93,257.42 L175.00,257.96" fill="none" stroke="#111111" stroke-width="1.4"/>
<path d="M60.90,315.54 L61.91,315.52 L62.91,315.70 L63.92,315.79 L64.93,315.50 L65.94,315.66 L66.94,315.52 L67.95,315.62 L68.96,315.56 L69.96,315.47 L70.97,315.46 L71.98,315.48 L72.99,315.76 L73.99,315.60 L75.00,315.49" fill="none" stroke="#111111" stroke-width="1.4"/>
<path d="M89.90,315.76 L90.95,315.80 L92.01,315.58 L93.06,315.46 L94.12,315.48 L95.17,315.44 L96.22,315.54 L97.28,315.44 L98.33,315.50 L99.38,315.50 L100.44,315.63 L101.49,315.75 L102.55,315.70 L103.60,315.57" fill="none" stroke="#111111" stroke-width="1.4"/>
<path d="M118.60,315.57 L119.61,315.61 L120.61,315.55 L121.62,315.54 L122.63,315.42 L123.64,315.51 L124.64,315.79 L125.65,315.45 L126.66,315.60 L127.66,315.65 L128.67,315.75 L129.68,315.49 L130.69,315.51 L131.69,315.50 L132.70,315.56" fill="none" stroke="#111111" stroke-width="1.4"/>
<path d="M147.30,315.58 L148.33,315.78 L149.36,315.74 L150.39,315.75 L151.41,315.41 L152.44,315.41 L153.47,315.68 L154.50,315.76 L155.53,315.59 L156.56,315.63 L157.59,315.40 L158.61,315.56 L159.64,315.77 L160.67,315.73 L161.70,315.74" fill="none" stroke="#111111" stroke-width="1.4"/>
<line x1="60.40" y1="223.17" x2="60.90" y2="290.78" stroke="#0a0aff" stroke-width="0.8" opacity="0.45"/>
<line x1="75.00" y1="290.53" x2="75.40" y2="231.04" stroke="#0a0aff" stroke-width="0.8" opacity="0.45"/>
<line x1="89.40" y1="224.25" x2="89.90" y2="290.47" stroke="#0a0aff" stroke-width="0.8" opacity="0.45"/>
<line x1="103.60" y1="290.45" x2="104.50" y2="230.98" stroke="#0a0aff" stroke-width="0.8" opacity="0.45"/>
<line x1="118.20" y1="224.32" x2="118.60" y2="290.79" stroke="#0a0aff" stroke-width="0.8" opacity="0.45"/>
<line x1="132.70" y1="290.56" x2="133.20" y2="230.99" stroke="#0a0aff" stroke-width="0.8" opacity="0.45"/>
<line x1="146.80" y1="224.27" x2="147.30" y2="290.72" stroke="#0a0aff" stroke-width="0.8" opacity="0.45"/>
<line x1="161.70" y1="290.69" x2="162.20" y2="231.05" stroke="#0a0aff" stroke-width="0.8" opacity="0.45"/>
<path d="M46.00,223.25 L47.03,223.17 L48.06,223.16 L49.09,223.17 L50.11,223.20 L51.14,223.22 L52.17,223.24 L53.20,223.22 L54.23,223.21 L55.26,223.23 L56.29,223.20 L57.31,223.21 L58.34,223.15 L59.37,223.23 L60.40,223.17" fill="none" stroke="#0a0aff" stroke-width="1.4"/>
<path d="M75.40,231.04 L76.40,229.54 L77.40,228.35 L78.40,227.42 L79.40,226.71 L80.40,226.18 L81.40,225.74 L82.40,225.33 L83.40,225.04 L84.40,224.87 L85.40,224.70 L86.40,224.55 L87.40,224.42 L88.40,224.38 L89.40,224.25" fill="none" stroke="#0a0aff" stroke-width="1.4"/>
<path d="M104.50,230.98 L105.55,229.42 L106.61,228.26 L107.66,227.29 L108.72,226.58 L109.77,225.98 L110.82,225.52 L111.88,225.18 L112.93,224.99 L113.98,224.76 L115.04,224.57 L116.09,224.42 L117.15,224.37 L118.20,224.32" fill="none" stroke="#0a0aff" stroke-width="1.4"/>
<path d="M133.20,230.99 L134.25,229.40 L135.29,228.23 L136.34,227.31 L137.38,226.52 L138.43,225.93 L139.48,225.53 L140.52,225.20 L141.57,224.96 L142.62,224.71 L143.66,224.62 L144.71,224.49 L145.75,224.37 L146.80,224.27" fill="none" stroke="#0a0aff" stroke-width="1.4"/>
<path d="M162.20,231.05 L163.27,229.30 L164.33,228.07 L165.40,227.04 L166.47,226.31 L167.53,225.81 L168.60,225.34 L169.67,225.09 L170.73,224.80 L171.80,224.59 L172.87,224.46 L173.93,224.37 L175.00,224.32" fill="none" stroke="#0a0aff" stroke-width="1.4"/>
<path d="M60.90,290.78 L61.91,290.55 L62.91,290.73 L63.92,290.73 L64.93,291.10 L65.94,290.82 L66.94,290.81 L67.95,290.82 L68.96,290.95 L69.96,291.12 L70.97,291.07 L71.98,290.94 L72.99,290.97 L73.99,290.86 L75.00,290.53" fill="none" stroke="#0a0aff" stroke-width="1.4"/>
<path d="M89.90,290.47 L90.95,290.87 L92.01,290.88 L93.06,290.68 L94.12,290.99 L95.17,290.93 L96.22,290.95 L97.28,290.93 L98.33,290.84 L99.38,290.73 L100.44,290.78 L101.49,290.73 L102.55,290.88 L103.60,290.45" fill="none" stroke="#0a0aff" stroke-width="1.4"/>
<path d="M118.60,290.79 L119.61,290.57 L120.61,290.72 L121.62,290.98 L122.63,291.04 L123.64,290.93 L124.64,290.81 L125.65,290.99 L126.66,290.94 L127.66,291.13 L128.67,290.79 L129.68,290.80 L130.69,290.93 L131.69,290.50 L132.70,290.56" fill="none" stroke="#0a0aff" stroke-width="1.4"/>
<path d="M147.30,290.72 L148.33,290.80 L149.36,290.59 L150.39,290.66 L151.41,290.74 L152.44,291.13 L153.47,290.89 L154.50,291.10 L155.53,291.15 L156.56,290.90 L157.59,290.82 L158.61,291.03 L159.64,290.82 L160.67,290.59 L161.70,290.69" fill="none" stroke="#0a0aff" stroke-width="1.4"/>
<rect x="46.00" y="395.40" width="129.00" height="128.90" fill="none" stroke="#1a1a1a" stroke-width="1.5"/>
<line x1="44.00" y1="524.30" x2="46.00" y2="524.30" stroke="#111" stroke-width="1"/>
<text transform="translate(35.18,529.30) scale(1.0,1)" font-size="12" text-anchor="end" font-weight="bold">10</text>
<text transform="translate(42.10,525.30) scale(1,0.72)" font-size="7" text-anchor="end" font-weight="bold">-1</text>
<line x1="44.00" y1="498.52" x2="46.00" y2="498.52" stroke="#111" stroke-width="1"/>
<text transform="translate(37.51,503.52) scale(1.0,1)" font-size="12" text-anchor="end" font-weight="bold">10</text>
<text transform="translate(42.10,499.52) scale(1,0.72)" font-size="7" text-anchor="end" font-weight="bold">0</text>
<line x1="44.00" y1="472.74" x2="46.00" y2="472.74" stroke="#111" stroke-width="1"/>
<text transform="translate(37.51,477.74) scale(1.0,1)" font-size="12" text-anchor="end" font-weight="bold">10</text>
<text transform="translate(42.10,473.74) scale(1,0.72)" font-size="7" text-anchor="end" font-weight="bold">1</text>
<line x1="44.00" y1="446.96" x2="46.00" y2="446.96" stroke="#111" stroke-width="1"/>
<text transform="translate(37.51,451.96) scale(1.0,1)" font-size="12" text-anchor="end" font-weight="bold">10</text>
<text transform="translate(42.10,447.96) scale(1,0.72)" font-size="7" text-anchor="end" font-weight="bold">2</text>
<line x1="44.00" y1="421.18" x2="46.00" y2="421.18" stroke="#111" stroke-width="1"/>
<text transform="translate(37.51,426.18) scale(1.0,1)" font-size="12" text-anchor="end" font-weight="bold">10</text>
<text transform="translate(42.10,422.18) scale(1,0.72)" font-size="7" text-anchor="end" font-weight="bold">3</text>
<line x1="44.00" y1="395.40" x2="46.00" y2="395.40" stroke="#111" stroke-width="1"/>
<text transform="translate(37.51,400.40) scale(1.0,1)" font-size="12" text-anchor="end" font-weight="bold">10</text>
<text transform="translate(42.10,396.40) scale(1,0.72)" font-size="7" text-anchor="end" font-weight="bold">4</text>
<line x1="48.40" y1="524.30" x2="48.40" y2="526.30" stroke="#111" stroke-width="1"/>
<text transform="translate(38.41,539.15) scale(1.0,1)" font-size="12" font-weight="bold">10</text>
<text transform="translate(52.95,535.40) scale(1,0.95)" font-size="6.8" font-weight="bold">-3</text>
<line x1="79.15" y1="524.30" x2="79.15" y2="526.30" stroke="#111" stroke-width="1"/>
<text transform="translate(69.16,539.15) scale(1.0,1)" font-size="12" font-weight="bold">10</text>
<text transform="translate(83.70,535.40) scale(1,0.95)" font-size="6.8" font-weight="bold">-2</text>
<line x1="109.90" y1="524.30" x2="109.90" y2="526.30" stroke="#111" stroke-width="1"/>
<text transform="translate(99.91,539.15) scale(1.0,1)" font-size="12" font-weight="bold">10</text>
<text transform="translate(114.45,535.40) scale(1,0.95)" font-size="6.8" font-weight="bold">-1</text>
<line x1="140.65" y1="524.30" x2="140.65" y2="526.30" stroke="#111" stroke-width="1"/>
<text transform="translate(131.79,539.15) scale(1.0,1)" font-size="12" font-weight="bold">10</text>
<text transform="translate(146.33,535.40) scale(1,0.95)" font-size="6.8" font-weight="bold">0</text>
<line x1="171.40" y1="524.30" x2="171.40" y2="526.30" stroke="#111" stroke-width="1"/>
<text transform="translate(162.54,539.15) scale(1.0,1)" font-size="12" font-weight="bold">10</text>
<text transform="translate(177.08,535.40) scale(1,0.95)" font-size="6.8" font-weight="bold">1</text>
<text transform="translate(14.30,456.00) rotate(-90)" font-size="12.2" text-anchor="middle" font-weight="bold">Modulus (Pa)</text>
<text x="110.50" y="554.30" font-size="12.2" text-anchor="middle" font-weight="bold" >Frequency (Hz)</text>
<path d="M48.80,491.10 L53.91,491.50 L59.02,492.00 L64.12,492.00 L69.23,492.00 L74.34,491.30 L79.45,490.40 L84.56,489.90 L89.66,492.00 L94.77,491.60 L99.88,491.10 L104.99,491.10 L110.10,490.80 L115.20,490.80 L120.31,490.60 L125.42,490.40 L130.53,489.90 L135.64,489.40 L140.74,488.90 L145.85,488.00 L150.96,486.80 L156.07,485.50 L161.18,485.10 L166.28,483.40 L171.39,480.90" fill="none" stroke="#9a10d0" stroke-width="0.5" opacity="0.85"/>
<circle cx="48.80" cy="491.10" r="1.3" fill="#fff" stroke="#9a10d0" stroke-width="0.95"/>
<circle cx="53.91" cy="491.50" r="1.3" fill="#fff" stroke="#9a10d0" stroke-width="0.95"/>
<circle cx="59.02" cy="492.00" r="1.3" fill="#fff" stroke="#9a10d0" stroke-width="0.95"/>
<circle cx="64.12" cy="492.00" r="1.3" fill="#fff" stroke="#9a10d0" stroke-width="0.95"/>
<circle cx="69.23" cy="492.00" r="1.3" fill="#fff" stroke="#9a10d0" stroke-width="0.95"/>
<circle cx="74.34" cy="491.30" r="1.3" fill="#fff" stroke="#9a10d0" stroke-width="0.95"/>
<circle cx="79.45" cy="490.40" r="1.3" fill="#fff" stroke="#9a10d0" stroke-width="0.95"/>
<circle cx="84.56" cy="489.90" r="1.3" fill="#fff" stroke="#9a10d0" stroke-width="0.95"/>
<circle cx="89.66" cy="492.00" r="1.3" fill="#fff" stroke="#9a10d0" stroke-width="0.95"/>
<circle cx="94.77" cy="491.60" r="1.3" fill="#fff" stroke="#9a10d0" stroke-width="0.95"/>
<circle cx="99.88" cy="491.10" r="1.3" fill="#fff" stroke="#9a10d0" stroke-width="0.95"/>
<circle cx="104.99" cy="491.10" r="1.3" fill="#fff" stroke="#9a10d0" stroke-width="0.95"/>
<circle cx="110.10" cy="490.80" r="1.3" fill="#fff" stroke="#9a10d0" stroke-width="0.95"/>
<circle cx="115.20" cy="490.80" r="1.3" fill="#fff" stroke="#9a10d0" stroke-width="0.95"/>
<circle cx="120.31" cy="490.60" r="1.3" fill="#fff" stroke="#9a10d0" stroke-width="0.95"/>
<circle cx="125.42" cy="490.40" r="1.3" fill="#fff" stroke="#9a10d0" stroke-width="0.95"/>
<circle cx="130.53" cy="489.90" r="1.3" fill="#fff" stroke="#9a10d0" stroke-width="0.95"/>
<circle cx="135.64" cy="489.40" r="1.3" fill="#fff" stroke="#9a10d0" stroke-width="0.95"/>
<circle cx="140.74" cy="488.90" r="1.3" fill="#fff" stroke="#9a10d0" stroke-width="0.95"/>
<circle cx="145.85" cy="488.00" r="1.3" fill="#fff" stroke="#9a10d0" stroke-width="0.95"/>
<circle cx="150.96" cy="486.80" r="1.3" fill="#fff" stroke="#9a10d0" stroke-width="0.95"/>
<circle cx="156.07" cy="485.50" r="1.3" fill="#fff" stroke="#9a10d0" stroke-width="0.95"/>
<circle cx="161.18" cy="485.10" r="1.3" fill="#fff" stroke="#9a10d0" stroke-width="0.95"/>
<circle cx="166.28" cy="483.40" r="1.3" fill="#fff" stroke="#9a10d0" stroke-width="0.95"/>
<circle cx="171.39" cy="480.90" r="1.3" fill="#fff" stroke="#9a10d0" stroke-width="0.95"/>
<path d="M48.80,478.90 L53.91,479.40 L59.02,479.70 L64.12,480.00 L69.23,479.70 L74.34,478.90 L79.45,477.50 L84.56,477.10 L89.66,479.40 L94.77,478.50 L99.88,477.10 L104.99,478.90 L110.10,477.10 L115.20,477.00 L120.31,476.60 L125.42,476.10 L130.53,474.90 L135.64,473.20 L140.74,471.50 L145.85,469.80 L150.96,467.80 L156.07,466.40 L161.18,464.70 L166.28,463.50 L171.39,462.10" fill="none" stroke="#111111" stroke-width="0.5" opacity="0.85"/>
<circle cx="48.80" cy="478.90" r="1.3" fill="#fff" stroke="#111111" stroke-width="0.95"/>
<circle cx="53.91" cy="479.40" r="1.3" fill="#fff" stroke="#111111" stroke-width="0.95"/>
<circle cx="59.02" cy="479.70" r="1.3" fill="#fff" stroke="#111111" stroke-width="0.95"/>
<circle cx="64.12" cy="480.00" r="1.3" fill="#fff" stroke="#111111" stroke-width="0.95"/>
<circle cx="69.23" cy="479.70" r="1.3" fill="#fff" stroke="#111111" stroke-width="0.95"/>
<circle cx="74.34" cy="478.90" r="1.3" fill="#fff" stroke="#111111" stroke-width="0.95"/>
<circle cx="79.45" cy="477.50" r="1.3" fill="#fff" stroke="#111111" stroke-width="0.95"/>
<circle cx="84.56" cy="477.10" r="1.3" fill="#fff" stroke="#111111" stroke-width="0.95"/>
<circle cx="89.66" cy="479.40" r="1.3" fill="#fff" stroke="#111111" stroke-width="0.95"/>
<circle cx="94.77" cy="478.50" r="1.3" fill="#fff" stroke="#111111" stroke-width="0.95"/>
<circle cx="99.88" cy="477.10" r="1.3" fill="#fff" stroke="#111111" stroke-width="0.95"/>
<circle cx="104.99" cy="478.90" r="1.3" fill="#fff" stroke="#111111" stroke-width="0.95"/>
<circle cx="110.10" cy="477.10" r="1.3" fill="#fff" stroke="#111111" stroke-width="0.95"/>
<circle cx="115.20" cy="477.00" r="1.3" fill="#fff" stroke="#111111" stroke-width="0.95"/>
<circle cx="120.31" cy="476.60" r="1.3" fill="#fff" stroke="#111111" stroke-width="0.95"/>
<circle cx="125.42" cy="476.10" r="1.3" fill="#fff" stroke="#111111" stroke-width="0.95"/>
<circle cx="130.53" cy="474.90" r="1.3" fill="#fff" stroke="#111111" stroke-width="0.95"/>
<circle cx="135.64" cy="473.20" r="1.3" fill="#fff" stroke="#111111" stroke-width="0.95"/>
<circle cx="140.74" cy="471.50" r="1.3" fill="#fff" stroke="#111111" stroke-width="0.95"/>
<circle cx="145.85" cy="469.80" r="1.3" fill="#fff" stroke="#111111" stroke-width="0.95"/>
<circle cx="150.96" cy="467.80" r="1.3" fill="#fff" stroke="#111111" stroke-width="0.95"/>
<circle cx="156.07" cy="466.40" r="1.3" fill="#fff" stroke="#111111" stroke-width="0.95"/>
<circle cx="161.18" cy="464.70" r="1.3" fill="#fff" stroke="#111111" stroke-width="0.95"/>
<circle cx="166.28" cy="463.50" r="1.3" fill="#fff" stroke="#111111" stroke-width="0.95"/>
<circle cx="171.39" cy="462.10" r="1.3" fill="#fff" stroke="#111111" stroke-width="0.95"/>
<path d="M48.80,469.80 L53.91,469.50 L59.02,469.30 L64.12,469.10 L69.23,468.80 L74.34,468.60 L79.45,468.50 L84.56,468.30 L89.66,468.10 L94.77,467.80 L99.88,467.60 L104.99,467.40 L110.10,467.10 L115.20,466.70 L120.31,466.60 L125.42,466.40 L130.53,466.20 L135.64,466.10 L140.74,465.70 L145.85,465.60 L150.96,465.40 L156.07,465.20 L161.18,465.00 L166.28,465.20 L171.39,465.90" fill="none" stroke="#9a10d0" stroke-width="0.5" opacity="0.85"/>
<circle cx="48.80" cy="469.80" r="1.3" fill="#9a10d0"/>
<circle cx="53.91" cy="469.50" r="1.3" fill="#9a10d0"/>
<circle cx="59.02" cy="469.30" r="1.3" fill="#9a10d0"/>
<circle cx="64.12" cy="469.10" r="1.3" fill="#9a10d0"/>
<circle cx="69.23" cy="468.80" r="1.3" fill="#9a10d0"/>
<circle cx="74.34" cy="468.60" r="1.3" fill="#9a10d0"/>
<circle cx="79.45" cy="468.50" r="1.3" fill="#9a10d0"/>
<circle cx="84.56" cy="468.30" r="1.3" fill="#9a10d0"/>
<circle cx="89.66" cy="468.10" r="1.3" fill="#9a10d0"/>
<circle cx="94.77" cy="467.80" r="1.3" fill="#9a10d0"/>
<circle cx="99.88" cy="467.60" r="1.3" fill="#9a10d0"/>
<circle cx="104.99" cy="467.40" r="1.3" fill="#9a10d0"/>
<circle cx="110.10" cy="467.10" r="1.3" fill="#9a10d0"/>
<circle cx="115.20" cy="466.70" r="1.3" fill="#9a10d0"/>
<circle cx="120.31" cy="466.60" r="1.3" fill="#9a10d0"/>
<circle cx="125.42" cy="466.40" r="1.3" fill="#9a10d0"/>
<circle cx="130.53" cy="466.20" r="1.3" fill="#9a10d0"/>
<circle cx="135.64" cy="466.10" r="1.3" fill="#9a10d0"/>
<circle cx="140.74" cy="465.70" r="1.3" fill="#9a10d0"/>
<circle cx="145.85" cy="465.60" r="1.3" fill="#9a10d0"/>
<circle cx="150.96" cy="465.40" r="1.3" fill="#9a10d0"/>
<circle cx="156.07" cy="465.20" r="1.3" fill="#9a10d0"/>
<circle cx="161.18" cy="465.00" r="1.3" fill="#9a10d0"/>
<circle cx="166.28" cy="465.20" r="1.3" fill="#9a10d0"/>
<circle cx="171.39" cy="465.90" r="1.3" fill="#9a10d0"/>
<path d="M48.80,467.80 L53.91,467.40 L59.02,467.30 L64.12,466.90 L69.23,466.40 L74.34,466.10 L79.45,465.60 L84.56,465.20 L89.66,464.90 L94.77,463.50 L99.88,463.50 L104.99,463.30 L110.10,463.00 L115.20,462.10 L120.31,461.80 L125.42,461.60 L130.53,461.30 L135.64,461.00 L140.74,460.10 L145.85,459.30 L150.96,458.20 L156.07,456.70 L161.18,455.00 L166.28,452.80 L171.39,449.90" fill="none" stroke="#111111" stroke-width="0.5" opacity="0.85"/>
<circle cx="48.80" cy="467.80" r="1.3" fill="#111111"/>
<circle cx="53.91" cy="467.40" r="1.3" fill="#111111"/>
<circle cx="59.02" cy="467.30" r="1.3" fill="#111111"/>
<circle cx="64.12" cy="466.90" r="1.3" fill="#111111"/>
<circle cx="69.23" cy="466.40" r="1.3" fill="#111111"/>
<circle cx="74.34" cy="466.10" r="1.3" fill="#111111"/>
<circle cx="79.45" cy="465.60" r="1.3" fill="#111111"/>
<circle cx="84.56" cy="465.20" r="1.3" fill="#111111"/>
<circle cx="89.66" cy="464.90" r="1.3" fill="#111111"/>
<circle cx="94.77" cy="463.50" r="1.3" fill="#111111"/>
<circle cx="99.88" cy="463.50" r="1.3" fill="#111111"/>
<circle cx="104.99" cy="463.30" r="1.3" fill="#111111"/>
<circle cx="110.10" cy="463.00" r="1.3" fill="#111111"/>
<circle cx="115.20" cy="462.10" r="1.3" fill="#111111"/>
<circle cx="120.31" cy="461.80" r="1.3" fill="#111111"/>
<circle cx="125.42" cy="461.60" r="1.3" fill="#111111"/>
<circle cx="130.53" cy="461.30" r="1.3" fill="#111111"/>
<circle cx="135.64" cy="461.00" r="1.3" fill="#111111"/>
<circle cx="140.74" cy="460.10" r="1.3" fill="#111111"/>
<circle cx="145.85" cy="459.30" r="1.3" fill="#111111"/>
<circle cx="150.96" cy="458.20" r="1.3" fill="#111111"/>
<circle cx="156.07" cy="456.70" r="1.3" fill="#111111"/>
<circle cx="161.18" cy="455.00" r="1.3" fill="#111111"/>
<circle cx="166.28" cy="452.80" r="1.3" fill="#111111"/>
<circle cx="171.39" cy="449.90" r="1.3" fill="#111111"/>
<path d="M48.80,419.70 L53.91,419.90 L59.02,420.30 L64.12,420.60 L69.23,420.30 L74.34,419.40 L79.45,418.20 L84.56,417.70 L89.66,418.60 L94.77,417.40 L99.88,417.70 L104.99,417.20 L110.10,417.70 L115.20,418.20 L120.31,418.60 L125.42,418.90 L130.53,419.00 L135.64,419.10 L140.74,419.20 L145.85,419.20 L150.96,419.30 L156.07,419.30 L161.18,419.30 L166.28,419.40 L171.39,419.40" fill="none" stroke="#0a0aff" stroke-width="0.5" opacity="0.85"/>
<circle cx="48.80" cy="419.70" r="1.3" fill="#fff" stroke="#0a0aff" stroke-width="0.95"/>
<circle cx="53.91" cy="419.90" r="1.3" fill="#fff" stroke="#0a0aff" stroke-width="0.95"/>
<circle cx="59.02" cy="420.30" r="1.3" fill="#fff" stroke="#0a0aff" stroke-width="0.95"/>
<circle cx="64.12" cy="420.60" r="1.3" fill="#fff" stroke="#0a0aff" stroke-width="0.95"/>
<circle cx="69.23" cy="420.30" r="1.3" fill="#fff" stroke="#0a0aff" stroke-width="0.95"/>
<circle cx="74.34" cy="419.40" r="1.3" fill="#fff" stroke="#0a0aff" stroke-width="0.95"/>
<circle cx="79.45" cy="418.20" r="1.3" fill="#fff" stroke="#0a0aff" stroke-width="0.95"/>
<circle cx="84.56" cy="417.70" r="1.3" fill="#fff" stroke="#0a0aff" stroke-width="0.95"/>
<circle cx="89.66" cy="418.60" r="1.3" fill="#fff" stroke="#0a0aff" stroke-width="0.95"/>
<circle cx="94.77" cy="417.40" r="1.3" fill="#fff" stroke="#0a0aff" stroke-width="0.95"/>
<circle cx="99.88" cy="417.70" r="1.3" fill="#fff" stroke="#0a0aff" stroke-width="0.95"/>
<circle cx="104.99" cy="417.20" r="1.3" fill="#fff" stroke="#0a0aff" stroke-width="0.95"/>
<circle cx="110.10" cy="417.70" r="1.3" fill="#fff" stroke="#0a0aff" stroke-width="0.95"/>
<circle cx="115.20" cy="418.20" r="1.3" fill="#fff" stroke="#0a0aff" stroke-width="0.95"/>
<circle cx="120.31" cy="418.60" r="1.3" fill="#fff" stroke="#0a0aff" stroke-width="0.95"/>
<circle cx="125.42" cy="418.90" r="1.3" fill="#fff" stroke="#0a0aff" stroke-width="0.95"/>
<circle cx="130.53" cy="419.00" r="1.3" fill="#fff" stroke="#0a0aff" stroke-width="0.95"/>
<circle cx="135.64" cy="419.10" r="1.3" fill="#fff" stroke="#0a0aff" stroke-width="0.95"/>
<circle cx="140.74" cy="419.20" r="1.3" fill="#fff" stroke="#0a0aff" stroke-width="0.95"/>
<circle cx="145.85" cy="419.20" r="1.3" fill="#fff" stroke="#0a0aff" stroke-width="0.95"/>
<circle cx="150.96" cy="419.30" r="1.3" fill="#fff" stroke="#0a0aff" stroke-width="0.95"/>
<circle cx="156.07" cy="419.30" r="1.3" fill="#fff" stroke="#0a0aff" stroke-width="0.95"/>
<circle cx="161.18" cy="419.30" r="1.3" fill="#fff" stroke="#0a0aff" stroke-width="0.95"/>
<circle cx="166.28" cy="419.40" r="1.3" fill="#fff" stroke="#0a0aff" stroke-width="0.95"/>
<circle cx="171.39" cy="419.40" r="1.3" fill="#fff" stroke="#0a0aff" stroke-width="0.95"/>
<path d="M48.80,417.40 L53.91,416.90 L59.02,416.00 L64.12,415.10 L69.23,414.30 L74.34,412.90 L79.45,412.30 L84.56,412.10 L89.66,411.40 L94.77,410.00 L99.88,409.70 L104.99,409.20 L110.10,408.50 L115.20,407.80 L120.31,407.10 L125.42,406.60 L130.53,406.10 L135.64,405.60 L140.74,405.30 L145.85,404.80 L150.96,404.40 L156.07,403.90 L161.18,403.60 L166.28,403.00 L171.39,402.40" fill="none" stroke="#0a0aff" stroke-width="0.5" opacity="0.85"/>
<circle cx="48.80" cy="417.40" r="1.3" fill="#0a0aff"/>
<circle cx="53.91" cy="416.90" r="1.3" fill="#0a0aff"/>
<circle cx="59.02" cy="416.00" r="1.3" fill="#0a0aff"/>
<circle cx="64.12" cy="415.10" r="1.3" fill="#0a0aff"/>
<circle cx="69.23" cy="414.30" r="1.3" fill="#0a0aff"/>
<circle cx="74.34" cy="412.90" r="1.3" fill="#0a0aff"/>
<circle cx="79.45" cy="412.30" r="1.3" fill="#0a0aff"/>
<circle cx="84.56" cy="412.10" r="1.3" fill="#0a0aff"/>
<circle cx="89.66" cy="411.40" r="1.3" fill="#0a0aff"/>
<circle cx="94.77" cy="410.00" r="1.3" fill="#0a0aff"/>
<circle cx="99.88" cy="409.70" r="1.3" fill="#0a0aff"/>
<circle cx="104.99" cy="409.20" r="1.3" fill="#0a0aff"/>
<circle cx="110.10" cy="408.50" r="1.3" fill="#0a0aff"/>
<circle cx="115.20" cy="407.80" r="1.3" fill="#0a0aff"/>
<circle cx="120.31" cy="407.10" r="1.3" fill="#0a0aff"/>
<circle cx="125.42" cy="406.60" r="1.3" fill="#0a0aff"/>
<circle cx="130.53" cy="406.10" r="1.3" fill="#0a0aff"/>
<circle cx="135.64" cy="405.60" r="1.3" fill="#0a0aff"/>
<circle cx="140.74" cy="405.30" r="1.3" fill="#0a0aff"/>
<circle cx="145.85" cy="404.80" r="1.3" fill="#0a0aff"/>
<circle cx="150.96" cy="404.40" r="1.3" fill="#0a0aff"/>
<circle cx="156.07" cy="403.90" r="1.3" fill="#0a0aff"/>
<circle cx="161.18" cy="403.60" r="1.3" fill="#0a0aff"/>
<circle cx="166.28" cy="403.00" r="1.3" fill="#0a0aff"/>
<circle cx="171.39" cy="402.40" r="1.3" fill="#0a0aff"/>
<rect x="234.20" y="395.40" width="129.00" height="128.90" fill="none" stroke="#1a1a1a" stroke-width="1.5"/>
<line x1="232.20" y1="524.30" x2="234.20" y2="524.30" stroke="#111" stroke-width="1"/>
<text transform="translate(223.38,529.30) scale(1.0,1)" font-size="12" text-anchor="end" font-weight="bold">10</text>
<text transform="translate(230.30,525.30) scale(1,0.72)" font-size="7" text-anchor="end" font-weight="bold">-1</text>
<line x1="232.20" y1="498.52" x2="234.20" y2="498.52" stroke="#111" stroke-width="1"/>
<text transform="translate(225.71,503.52) scale(1.0,1)" font-size="12" text-anchor="end" font-weight="bold">10</text>
<text transform="translate(230.30,499.52) scale(1,0.72)" font-size="7" text-anchor="end" font-weight="bold">0</text>
<line x1="232.20" y1="472.74" x2="234.20" y2="472.74" stroke="#111" stroke-width="1"/>
<text transform="translate(225.71,477.74) scale(1.0,1)" font-size="12" text-anchor="end" font-weight="bold">10</text>
<text transform="translate(230.30,473.74) scale(1,0.72)" font-size="7" text-anchor="end" font-weight="bold">1</text>
<line x1="232.20" y1="446.96" x2="234.20" y2="446.96" stroke="#111" stroke-width="1"/>
<text transform="translate(225.71,451.96) scale(1.0,1)" font-size="12" text-anchor="end" font-weight="bold">10</text>
<text transform="translate(230.30,447.96) scale(1,0.72)" font-size="7" text-anchor="end" font-weight="bold">2</text>
<line x1="232.20" y1="421.18" x2="234.20" y2="421.18" stroke="#111" stroke-width="1"/>
<text transform="translate(225.71,426.18) scale(1.0,1)" font-size="12" text-anchor="end" font-weight="bold">10</text>
<text transform="translate(230.30,422.18) scale(1,0.72)" font-size="7" text-anchor="end" font-weight="bold">3</text>
<line x1="232.20" y1="395.40" x2="234.20" y2="395.40" stroke="#111" stroke-width="1"/>
<text transform="translate(225.71,400.40) scale(1.0,1)" font-size="12" text-anchor="end" font-weight="bold">10</text>
<text transform="translate(230.30,396.40) scale(1,0.72)" font-size="7" text-anchor="end" font-weight="bold">4</text>
<line x1="237.20" y1="524.30" x2="237.20" y2="526.30" stroke="#111" stroke-width="1"/>
<text transform="translate(227.21,539.15) scale(1.0,1)" font-size="12" font-weight="bold">10</text>
<text transform="translate(241.75,535.40) scale(1,0.95)" font-size="6.8" font-weight="bold">-3</text>
<line x1="267.85" y1="524.30" x2="267.85" y2="526.30" stroke="#111" stroke-width="1"/>
<text transform="translate(257.86,539.15) scale(1.0,1)" font-size="12" font-weight="bold">10</text>
<text transform="translate(272.40,535.40) scale(1,0.95)" font-size="6.8" font-weight="bold">-2</text>
<line x1="298.50" y1="524.30" x2="298.50" y2="526.30" stroke="#111" stroke-width="1"/>
<text transform="translate(288.51,539.15) scale(1.0,1)" font-size="12" font-weight="bold">10</text>
<text transform="translate(303.05,535.40) scale(1,0.95)" font-size="6.8" font-weight="bold">-1</text>
<line x1="329.15" y1="524.30" x2="329.15" y2="526.30" stroke="#111" stroke-width="1"/>
<text transform="translate(320.29,539.15) scale(1.0,1)" font-size="12" font-weight="bold">10</text>
<text transform="translate(334.83,535.40) scale(1,0.95)" font-size="6.8" font-weight="bold">0</text>
<line x1="359.80" y1="524.30" x2="359.80" y2="526.30" stroke="#111" stroke-width="1"/>
<text transform="translate(350.94,539.15) scale(1.0,1)" font-size="12" font-weight="bold">10</text>
<text transform="translate(365.48,535.40) scale(1,0.95)" font-size="6.8" font-weight="bold">1</text>
<text transform="translate(203.50,456.00) rotate(-90)" font-size="12.2" text-anchor="middle" font-weight="bold">Modulus (Pa)</text>
<text x="299.00" y="554.30" font-size="12.2" text-anchor="middle" font-weight="bold" >Frequency (Hz)</text>
<path d="M237.10,495.90 L242.22,496.20 L247.34,496.60 L252.46,496.60 L257.58,496.20 L262.70,495.40 L267.82,494.50 L272.94,493.20 L278.06,494.20 L283.18,493.70 L288.30,494.20 L293.42,488.60 L298.54,488.50 L303.66,487.80 L308.78,486.80 L313.90,486.40 L319.02,485.70 L324.14,485.00 L329.26,484.30 L334.38,483.20 L339.50,482.00 L344.62,481.50 L349.74,480.30 L354.86,479.40 L359.98,478.50" fill="none" stroke="#0f6680" stroke-width="0.5" opacity="0.85"/>
<circle cx="237.10" cy="495.90" r="1.3" fill="#fff" stroke="#0f6680" stroke-width="0.95"/>
<circle cx="242.22" cy="496.20" r="1.3" fill="#fff" stroke="#0f6680" stroke-width="0.95"/>
<circle cx="247.34" cy="496.60" r="1.3" fill="#fff" stroke="#0f6680" stroke-width="0.95"/>
<circle cx="252.46" cy="496.60" r="1.3" fill="#fff" stroke="#0f6680" stroke-width="0.95"/>
<circle cx="257.58" cy="496.20" r="1.3" fill="#fff" stroke="#0f6680" stroke-width="0.95"/>
<circle cx="262.70" cy="495.40" r="1.3" fill="#fff" stroke="#0f6680" stroke-width="0.95"/>
<circle cx="267.82" cy="494.50" r="1.3" fill="#fff" stroke="#0f6680" stroke-width="0.95"/>
<circle cx="272.94" cy="493.20" r="1.3" fill="#fff" stroke="#0f6680" stroke-width="0.95"/>
<circle cx="278.06" cy="494.20" r="1.3" fill="#fff" stroke="#0f6680" stroke-width="0.95"/>
<circle cx="283.18" cy="493.70" r="1.3" fill="#fff" stroke="#0f6680" stroke-width="0.95"/>
<circle cx="288.30" cy="494.20" r="1.3" fill="#fff" stroke="#0f6680" stroke-width="0.95"/>
<circle cx="293.42" cy="488.60" r="1.3" fill="#fff" stroke="#0f6680" stroke-width="0.95"/>
<circle cx="298.54" cy="488.50" r="1.3" fill="#fff" stroke="#0f6680" stroke-width="0.95"/>
<circle cx="303.66" cy="487.80" r="1.3" fill="#fff" stroke="#0f6680" stroke-width="0.95"/>
<circle cx="308.78" cy="486.80" r="1.3" fill="#fff" stroke="#0f6680" stroke-width="0.95"/>
<circle cx="313.90" cy="486.40" r="1.3" fill="#fff" stroke="#0f6680" stroke-width="0.95"/>
<circle cx="319.02" cy="485.70" r="1.3" fill="#fff" stroke="#0f6680" stroke-width="0.95"/>
<circle cx="324.14" cy="485.00" r="1.3" fill="#fff" stroke="#0f6680" stroke-width="0.95"/>
<circle cx="329.26" cy="484.30" r="1.3" fill="#fff" stroke="#0f6680" stroke-width="0.95"/>
<circle cx="334.38" cy="483.20" r="1.3" fill="#fff" stroke="#0f6680" stroke-width="0.95"/>
<circle cx="339.50" cy="482.00" r="1.3" fill="#fff" stroke="#0f6680" stroke-width="0.95"/>
<circle cx="344.62" cy="481.50" r="1.3" fill="#fff" stroke="#0f6680" stroke-width="0.95"/>
<circle cx="349.74" cy="480.30" r="1.3" fill="#fff" stroke="#0f6680" stroke-width="0.95"/>
<circle cx="354.86" cy="479.40" r="1.3" fill="#fff" stroke="#0f6680" stroke-width="0.95"/>
<circle cx="359.98" cy="478.50" r="1.3" fill="#fff" stroke="#0f6680" stroke-width="0.95"/>
<path d="M237.10,490.80 L242.22,491.10 L247.34,491.40 L252.46,491.60 L257.58,491.10 L262.70,490.30 L267.82,488.60 L272.94,486.30 L278.06,486.00 L283.18,485.10 L288.30,485.70 L293.42,484.00 L298.54,483.20 L303.66,482.50 L308.78,482.20 L313.90,481.50 L319.02,480.80 L324.14,480.30 L329.26,479.70 L334.38,478.70 L339.50,477.60 L344.62,477.10 L349.74,476.40 L354.86,475.00 L359.98,474.50" fill="none" stroke="#10b810" stroke-width="0.5" opacity="0.85"/>
<circle cx="237.10" cy="490.80" r="1.3" fill="#fff" stroke="#10b810" stroke-width="0.95"/>
<circle cx="242.22" cy="491.10" r="1.3" fill="#fff" stroke="#10b810" stroke-width="0.95"/>
<circle cx="247.34" cy="491.40" r="1.3" fill="#fff" stroke="#10b810" stroke-width="0.95"/>
<circle cx="252.46" cy="491.60" r="1.3" fill="#fff" stroke="#10b810" stroke-width="0.95"/>
<circle cx="257.58" cy="491.10" r="1.3" fill="#fff" stroke="#10b810" stroke-width="0.95"/>
<circle cx="262.70" cy="490.30" r="1.3" fill="#fff" stroke="#10b810" stroke-width="0.95"/>
<circle cx="267.82" cy="488.60" r="1.3" fill="#fff" stroke="#10b810" stroke-width="0.95"/>
<circle cx="272.94" cy="486.30" r="1.3" fill="#fff" stroke="#10b810" stroke-width="0.95"/>
<circle cx="278.06" cy="486.00" r="1.3" fill="#fff" stroke="#10b810" stroke-width="0.95"/>
<circle cx="283.18" cy="485.10" r="1.3" fill="#fff" stroke="#10b810" stroke-width="0.95"/>
<circle cx="288.30" cy="485.70" r="1.3" fill="#fff" stroke="#10b810" stroke-width="0.95"/>
<circle cx="293.42" cy="484.00" r="1.3" fill="#fff" stroke="#10b810" stroke-width="0.95"/>
<circle cx="298.54" cy="483.20" r="1.3" fill="#fff" stroke="#10b810" stroke-width="0.95"/>
<circle cx="303.66" cy="482.50" r="1.3" fill="#fff" stroke="#10b810" stroke-width="0.95"/>
<circle cx="308.78" cy="482.20" r="1.3" fill="#fff" stroke="#10b810" stroke-width="0.95"/>
<circle cx="313.90" cy="481.50" r="1.3" fill="#fff" stroke="#10b810" stroke-width="0.95"/>
<circle cx="319.02" cy="480.80" r="1.3" fill="#fff" stroke="#10b810" stroke-width="0.95"/>
<circle cx="324.14" cy="480.30" r="1.3" fill="#fff" stroke="#10b810" stroke-width="0.95"/>
<circle cx="329.26" cy="479.70" r="1.3" fill="#fff" stroke="#10b810" stroke-width="0.95"/>
<circle cx="334.38" cy="478.70" r="1.3" fill="#fff" stroke="#10b810" stroke-width="0.95"/>
<circle cx="339.50" cy="477.60" r="1.3" fill="#fff" stroke="#10b810" stroke-width="0.95"/>
<circle cx="344.62" cy="477.10" r="1.3" fill="#fff" stroke="#10b810" stroke-width="0.95"/>
<circle cx="349.74" cy="476.40" r="1.3" fill="#fff" stroke="#10b810" stroke-width="0.95"/>
<circle cx="354.86" cy="475.00" r="1.3" fill="#fff" stroke="#10b810" stroke-width="0.95"/>
<circle cx="359.98" cy="474.50" r="1.3" fill="#fff" stroke="#10b810" stroke-width="0.95"/>
<path d="M237.10,487.40 L242.22,488.20 L247.34,489.10 L252.46,489.10 L257.58,488.60 L262.70,487.40 L267.82,484.60 L272.94,482.20 L278.06,482.60 L283.18,481.40 L288.30,481.40 L293.42,480.00 L298.54,480.30 L303.66,479.00 L308.78,478.00 L313.90,477.30 L319.02,477.30 L324.14,476.80 L329.26,476.40 L334.38,475.90 L339.50,475.00 L344.62,474.10 L349.74,473.20 L354.86,472.00 L359.98,472.00" fill="none" stroke="#3c96ff" stroke-width="0.5" opacity="0.85"/>
<circle cx="237.10" cy="487.40" r="1.3" fill="#fff" stroke="#3c96ff" stroke-width="0.95"/>
<circle cx="242.22" cy="488.20" r="1.3" fill="#fff" stroke="#3c96ff" stroke-width="0.95"/>
<circle cx="247.34" cy="489.10" r="1.3" fill="#fff" stroke="#3c96ff" stroke-width="0.95"/>
<circle cx="252.46" cy="489.10" r="1.3" fill="#fff" stroke="#3c96ff" stroke-width="0.95"/>
<circle cx="257.58" cy="488.60" r="1.3" fill="#fff" stroke="#3c96ff" stroke-width="0.95"/>
<circle cx="262.70" cy="487.40" r="1.3" fill="#fff" stroke="#3c96ff" stroke-width="0.95"/>
<circle cx="267.82" cy="484.60" r="1.3" fill="#fff" stroke="#3c96ff" stroke-width="0.95"/>
<circle cx="272.94" cy="482.20" r="1.3" fill="#fff" stroke="#3c96ff" stroke-width="0.95"/>
<circle cx="278.06" cy="482.60" r="1.3" fill="#fff" stroke="#3c96ff" stroke-width="0.95"/>
<circle cx="283.18" cy="481.40" r="1.3" fill="#fff" stroke="#3c96ff" stroke-width="0.95"/>
<circle cx="288.30" cy="481.40" r="1.3" fill="#fff" stroke="#3c96ff" stroke-width="0.95"/>
<circle cx="293.42" cy="480.00" r="1.3" fill="#fff" stroke="#3c96ff" stroke-width="0.95"/>
<circle cx="298.54" cy="480.30" r="1.3" fill="#fff" stroke="#3c96ff" stroke-width="0.95"/>
<circle cx="303.66" cy="479.00" r="1.3" fill="#fff" stroke="#3c96ff" stroke-width="0.95"/>
<circle cx="308.78" cy="478.00" r="1.3" fill="#fff" stroke="#3c96ff" stroke-width="0.95"/>
<circle cx="313.90" cy="477.30" r="1.3" fill="#fff" stroke="#3c96ff" stroke-width="0.95"/>
<circle cx="319.02" cy="477.30" r="1.3" fill="#fff" stroke="#3c96ff" stroke-width="0.95"/>
<circle cx="324.14" cy="476.80" r="1.3" fill="#fff" stroke="#3c96ff" stroke-width="0.95"/>
<circle cx="329.26" cy="476.40" r="1.3" fill="#fff" stroke="#3c96ff" stroke-width="0.95"/>
<circle cx="334.38" cy="475.90" r="1.3" fill="#fff" stroke="#3c96ff" stroke-width="0.95"/>
<circle cx="339.50" cy="475.00" r="1.3" fill="#fff" stroke="#3c96ff" stroke-width="0.95"/>
<circle cx="344.62" cy="474.10" r="1.3" fill="#fff" stroke="#3c96ff" stroke-width="0.95"/>
<circle cx="349.74" cy="473.20" r="1.3" fill="#fff" stroke="#3c96ff" stroke-width="0.95"/>
<circle cx="354.86" cy="472.00" r="1.3" fill="#fff" stroke="#3c96ff" stroke-width="0.95"/>
<circle cx="359.98" cy="472.00" r="1.3" fill="#fff" stroke="#3c96ff" stroke-width="0.95"/>
<path d="M237.10,490.80 L242.22,490.80 L247.34,490.40 L252.46,489.40 L257.58,488.60 L262.70,487.40 L267.82,486.30 L272.94,486.00 L278.06,485.10 L283.18,482.20 L288.30,482.20 L293.42,480.40 L298.54,479.70 L303.66,478.50 L308.78,477.60 L313.90,476.80 L319.02,475.40 L324.14,474.10 L329.26,472.90 L334.38,472.00 L339.50,470.30 L344.62,468.50 L349.74,465.70 L354.86,462.20 L359.98,457.50" fill="none" stroke="#0f6680" stroke-width="0.5" opacity="0.85"/>
<circle cx="237.10" cy="490.80" r="1.3" fill="#0f6680"/>
<circle cx="242.22" cy="490.80" r="1.3" fill="#0f6680"/>
<circle cx="247.34" cy="490.40" r="1.3" fill="#0f6680"/>
<circle cx="252.46" cy="489.40" r="1.3" fill="#0f6680"/>
<circle cx="257.58" cy="488.60" r="1.3" fill="#0f6680"/>
<circle cx="262.70" cy="487.40" r="1.3" fill="#0f6680"/>
<circle cx="267.82" cy="486.30" r="1.3" fill="#0f6680"/>
<circle cx="272.94" cy="486.00" r="1.3" fill="#0f6680"/>
<circle cx="278.06" cy="485.10" r="1.3" fill="#0f6680"/>
<circle cx="283.18" cy="482.20" r="1.3" fill="#0f6680"/>
<circle cx="288.30" cy="482.20" r="1.3" fill="#0f6680"/>
<circle cx="293.42" cy="480.40" r="1.3" fill="#0f6680"/>
<circle cx="298.54" cy="479.70" r="1.3" fill="#0f6680"/>
<circle cx="303.66" cy="478.50" r="1.3" fill="#0f6680"/>
<circle cx="308.78" cy="477.60" r="1.3" fill="#0f6680"/>
<circle cx="313.90" cy="476.80" r="1.3" fill="#0f6680"/>
<circle cx="319.02" cy="475.40" r="1.3" fill="#0f6680"/>
<circle cx="324.14" cy="474.10" r="1.3" fill="#0f6680"/>
<circle cx="329.26" cy="472.90" r="1.3" fill="#0f6680"/>
<circle cx="334.38" cy="472.00" r="1.3" fill="#0f6680"/>
<circle cx="339.50" cy="470.30" r="1.3" fill="#0f6680"/>
<circle cx="344.62" cy="468.50" r="1.3" fill="#0f6680"/>
<circle cx="349.74" cy="465.70" r="1.3" fill="#0f6680"/>
<circle cx="354.86" cy="462.20" r="1.3" fill="#0f6680"/>
<circle cx="359.98" cy="457.50" r="1.3" fill="#0f6680"/>
<path d="M237.10,478.80 L242.22,478.50 L247.34,478.20 L252.46,477.80 L257.58,477.10 L262.70,476.30 L267.82,475.80 L272.94,475.30 L278.06,475.30 L283.18,474.60 L288.30,474.10 L293.42,472.90 L298.54,472.00 L303.66,471.00 L308.78,470.30 L313.90,469.40 L319.02,468.90 L324.14,468.00 L329.26,467.10 L334.38,466.20 L339.50,465.00 L344.62,463.60 L349.74,461.80 L354.86,459.70 L359.98,456.60" fill="none" stroke="#10b810" stroke-width="0.5" opacity="0.85"/>
<circle cx="237.10" cy="478.80" r="1.3" fill="#10b810"/>
<circle cx="242.22" cy="478.50" r="1.3" fill="#10b810"/>
<circle cx="247.34" cy="478.20" r="1.3" fill="#10b810"/>
<circle cx="252.46" cy="477.80" r="1.3" fill="#10b810"/>
<circle cx="257.58" cy="477.10" r="1.3" fill="#10b810"/>
<circle cx="262.70" cy="476.30" r="1.3" fill="#10b810"/>
<circle cx="267.82" cy="475.80" r="1.3" fill="#10b810"/>
<circle cx="272.94" cy="475.30" r="1.3" fill="#10b810"/>
<circle cx="278.06" cy="475.30" r="1.3" fill="#10b810"/>
<circle cx="283.18" cy="474.60" r="1.3" fill="#10b810"/>
<circle cx="288.30" cy="474.10" r="1.3" fill="#10b810"/>
<circle cx="293.42" cy="472.90" r="1.3" fill="#10b810"/>
<circle cx="298.54" cy="472.00" r="1.3" fill="#10b810"/>
<circle cx="303.66" cy="471.00" r="1.3" fill="#10b810"/>
<circle cx="308.78" cy="470.30" r="1.3" fill="#10b810"/>
<circle cx="313.90" cy="469.40" r="1.3" fill="#10b810"/>
<circle cx="319.02" cy="468.90" r="1.3" fill="#10b810"/>
<circle cx="324.14" cy="468.00" r="1.3" fill="#10b810"/>
<circle cx="329.26" cy="467.10" r="1.3" fill="#10b810"/>
<circle cx="334.38" cy="466.20" r="1.3" fill="#10b810"/>
<circle cx="339.50" cy="465.00" r="1.3" fill="#10b810"/>
<circle cx="344.62" cy="463.60" r="1.3" fill="#10b810"/>
<circle cx="349.74" cy="461.80" r="1.3" fill="#10b810"/>
<circle cx="354.86" cy="459.70" r="1.3" fill="#10b810"/>
<circle cx="359.98" cy="456.60" r="1.3" fill="#10b810"/>
<path d="M237.10,473.20 L242.22,472.90 L247.34,472.40 L252.46,472.00 L257.58,471.50 L262.70,470.70 L267.82,470.00 L272.94,469.50 L278.06,469.00 L283.18,468.10 L288.30,467.60 L293.42,466.70 L298.54,466.20 L303.66,465.40 L308.78,464.50 L313.90,463.60 L319.02,462.70 L324.14,462.20 L329.26,461.50 L334.38,460.40 L339.50,459.60 L344.62,458.70 L349.74,457.50 L354.86,456.10 L359.98,454.50" fill="none" stroke="#3c96ff" stroke-width="0.5" opacity="0.85"/>
<circle cx="237.10" cy="473.20" r="1.3" fill="#3c96ff"/>
<circle cx="242.22" cy="472.90" r="1.3" fill="#3c96ff"/>
<circle cx="247.34" cy="472.40" r="1.3" fill="#3c96ff"/>
<circle cx="252.46" cy="472.00" r="1.3" fill="#3c96ff"/>
<circle cx="257.58" cy="471.50" r="1.3" fill="#3c96ff"/>
<circle cx="262.70" cy="470.70" r="1.3" fill="#3c96ff"/>
<circle cx="267.82" cy="470.00" r="1.3" fill="#3c96ff"/>
<circle cx="272.94" cy="469.50" r="1.3" fill="#3c96ff"/>
<circle cx="278.06" cy="469.00" r="1.3" fill="#3c96ff"/>
<circle cx="283.18" cy="468.10" r="1.3" fill="#3c96ff"/>
<circle cx="288.30" cy="467.60" r="1.3" fill="#3c96ff"/>
<circle cx="293.42" cy="466.70" r="1.3" fill="#3c96ff"/>
<circle cx="298.54" cy="466.20" r="1.3" fill="#3c96ff"/>
<circle cx="303.66" cy="465.40" r="1.3" fill="#3c96ff"/>
<circle cx="308.78" cy="464.50" r="1.3" fill="#3c96ff"/>
<circle cx="313.90" cy="463.60" r="1.3" fill="#3c96ff"/>
<circle cx="319.02" cy="462.70" r="1.3" fill="#3c96ff"/>
<circle cx="324.14" cy="462.20" r="1.3" fill="#3c96ff"/>
<circle cx="329.26" cy="461.50" r="1.3" fill="#3c96ff"/>
<circle cx="334.38" cy="460.40" r="1.3" fill="#3c96ff"/>
<circle cx="339.50" cy="459.60" r="1.3" fill="#3c96ff"/>
<circle cx="344.62" cy="458.70" r="1.3" fill="#3c96ff"/>
<circle cx="349.74" cy="457.50" r="1.3" fill="#3c96ff"/>
<circle cx="354.86" cy="456.10" r="1.3" fill="#3c96ff"/>
<circle cx="359.98" cy="454.50" r="1.3" fill="#3c96ff"/>
<rect x="45.80" y="593.60" width="129.20" height="129.30" fill="none" stroke="#1a1a1a" stroke-width="1.5"/>
<line x1="43.80" y1="722.90" x2="45.80" y2="722.90" stroke="#111" stroke-width="1"/>
<text transform="translate(34.98,727.90) scale(1.0,1)" font-size="12" text-anchor="end" font-weight="bold">10</text>
<text transform="translate(41.90,723.90) scale(1,0.72)" font-size="7" text-anchor="end" font-weight="bold">-1</text>
<line x1="43.80" y1="697.04" x2="45.80" y2="697.04" stroke="#111" stroke-width="1"/>
<text transform="translate(37.31,702.04) scale(1.0,1)" font-size="12" text-anchor="end" font-weight="bold">10</text>
<text transform="translate(41.90,698.04) scale(1,0.72)" font-size="7" text-anchor="end" font-weight="bold">0</text>
<line x1="43.80" y1="671.18" x2="45.80" y2="671.18" stroke="#111" stroke-width="1"/>
<text transform="translate(37.31,676.18) scale(1.0,1)" font-size="12" text-anchor="end" font-weight="bold">10</text>
<text transform="translate(41.90,672.18) scale(1,0.72)" font-size="7" text-anchor="end" font-weight="bold">1</text>
<line x1="43.80" y1="645.32" x2="45.80" y2="645.32" stroke="#111" stroke-width="1"/>
<text transform="translate(37.31,650.32) scale(1.0,1)" font-size="12" text-anchor="end" font-weight="bold">10</text>
<text transform="translate(41.90,646.32) scale(1,0.72)" font-size="7" text-anchor="end" font-weight="bold">2</text>
<line x1="43.80" y1="619.46" x2="45.80" y2="619.46" stroke="#111" stroke-width="1"/>
<text transform="translate(37.31,624.46) scale(1.0,1)" font-size="12" text-anchor="end" font-weight="bold">10</text>
<text transform="translate(41.90,620.46) scale(1,0.72)" font-size="7" text-anchor="end" font-weight="bold">3</text>
<line x1="43.80" y1="593.60" x2="45.80" y2="593.60" stroke="#111" stroke-width="1"/>
<text transform="translate(37.31,598.60) scale(1.0,1)" font-size="12" text-anchor="end" font-weight="bold">10</text>
<text transform="translate(41.90,594.60) scale(1,0.72)" font-size="7" text-anchor="end" font-weight="bold">4</text>
<line x1="45.60" y1="722.90" x2="45.60" y2="724.90" stroke="#111" stroke-width="1"/>
<text transform="translate(35.61,737.75) scale(1.0,1)" font-size="12" font-weight="bold">10</text>
<text transform="translate(50.15,734.00) scale(1,0.95)" font-size="6.8" font-weight="bold">-1</text>
<line x1="77.00" y1="722.90" x2="77.00" y2="724.90" stroke="#111" stroke-width="1"/>
<text transform="translate(68.14,737.75) scale(1.0,1)" font-size="12" font-weight="bold">10</text>
<text transform="translate(82.68,734.00) scale(1,0.95)" font-size="6.8" font-weight="bold">0</text>
<line x1="108.40" y1="722.90" x2="108.40" y2="724.90" stroke="#111" stroke-width="1"/>
<text transform="translate(99.54,737.75) scale(1.0,1)" font-size="12" font-weight="bold">10</text>
<text transform="translate(114.08,734.00) scale(1,0.95)" font-size="6.8" font-weight="bold">1</text>
<line x1="139.80" y1="722.90" x2="139.80" y2="724.90" stroke="#111" stroke-width="1"/>
<text transform="translate(130.94,737.75) scale(1.0,1)" font-size="12" font-weight="bold">10</text>
<text transform="translate(145.48,734.00) scale(1,0.95)" font-size="6.8" font-weight="bold">2</text>
<line x1="171.20" y1="722.90" x2="171.20" y2="724.90" stroke="#111" stroke-width="1"/>
<text transform="translate(162.34,737.75) scale(1.0,1)" font-size="12" font-weight="bold">10</text>
<text transform="translate(176.88,734.00) scale(1,0.95)" font-size="6.8" font-weight="bold">3</text>
<text transform="translate(14.30,654.50) rotate(-90)" font-size="12.2" text-anchor="middle" font-weight="bold">Modulus(Pa)</text>
<text x="110.10" y="752.90" font-size="12.2" text-anchor="middle" font-weight="bold" >Shear strain (%)</text>
<path d="M52.20,687.80 L58.47,686.10 L64.75,684.10 L71.02,686.60 L77.30,686.10 L83.57,686.60 L89.84,685.80 L96.12,684.90 L102.39,684.10 L108.67,682.40 L114.94,680.30 L121.21,677.60 L127.49,675.90 L133.76,675.90 L140.04,676.40 L146.31,677.60 L152.58,679.80 L158.86,683.20 L165.13,687.10 L171.41,690.40" fill="none" stroke="#9a10d0" stroke-width="0.7" opacity="0.85"/>
<circle cx="52.20" cy="687.80" r="1.4" fill="#fff" stroke="#9a10d0" stroke-width="0.95"/>
<circle cx="58.47" cy="686.10" r="1.4" fill="#fff" stroke="#9a10d0" stroke-width="0.95"/>
<circle cx="64.75" cy="684.10" r="1.4" fill="#fff" stroke="#9a10d0" stroke-width="0.95"/>
<circle cx="71.02" cy="686.60" r="1.4" fill="#fff" stroke="#9a10d0" stroke-width="0.95"/>
<circle cx="77.30" cy="686.10" r="1.4" fill="#fff" stroke="#9a10d0" stroke-width="0.95"/>
<circle cx="83.57" cy="686.60" r="1.4" fill="#fff" stroke="#9a10d0" stroke-width="0.95"/>
<circle cx="89.84" cy="685.80" r="1.4" fill="#fff" stroke="#9a10d0" stroke-width="0.95"/>
<circle cx="96.12" cy="684.90" r="1.4" fill="#fff" stroke="#9a10d0" stroke-width="0.95"/>
<circle cx="102.39" cy="684.10" r="1.4" fill="#fff" stroke="#9a10d0" stroke-width="0.95"/>
<circle cx="108.67" cy="682.40" r="1.4" fill="#fff" stroke="#9a10d0" stroke-width="0.95"/>
<circle cx="114.94" cy="680.30" r="1.4" fill="#fff" stroke="#9a10d0" stroke-width="0.95"/>
<circle cx="121.21" cy="677.60" r="1.4" fill="#fff" stroke="#9a10d0" stroke-width="0.95"/>
<circle cx="127.49" cy="675.90" r="1.4" fill="#fff" stroke="#9a10d0" stroke-width="0.95"/>
<circle cx="133.76" cy="675.90" r="1.4" fill="#fff" stroke="#9a10d0" stroke-width="0.95"/>
<circle cx="140.04" cy="676.40" r="1.4" fill="#fff" stroke="#9a10d0" stroke-width="0.95"/>
<circle cx="146.31" cy="677.60" r="1.4" fill="#fff" stroke="#9a10d0" stroke-width="0.95"/>
<circle cx="152.58" cy="679.80" r="1.4" fill="#fff" stroke="#9a10d0" stroke-width="0.95"/>
<circle cx="158.86" cy="683.20" r="1.4" fill="#fff" stroke="#9a10d0" stroke-width="0.95"/>
<circle cx="165.13" cy="687.10" r="1.4" fill="#fff" stroke="#9a10d0" stroke-width="0.95"/>
<circle cx="171.41" cy="690.40" r="1.4" fill="#fff" stroke="#9a10d0" stroke-width="0.95"/>
<path d="M52.20,669.60 L58.47,676.90 L64.75,678.60 L71.02,675.60 L77.30,675.20 L83.57,672.10 L89.84,670.80 L96.12,669.10 L102.39,669.10 L108.67,670.40 L114.94,671.80 L121.21,673.50 L127.49,675.90 L133.76,677.60 L140.04,679.50 L146.31,681.90 L152.58,683.60 L158.86,685.40 L165.13,687.10 L171.41,689.50" fill="none" stroke="#111111" stroke-width="0.7" opacity="0.85"/>
<circle cx="52.20" cy="669.60" r="1.4" fill="#fff" stroke="#111111" stroke-width="0.95"/>
<circle cx="58.47" cy="676.90" r="1.4" fill="#fff" stroke="#111111" stroke-width="0.95"/>
<circle cx="64.75" cy="678.60" r="1.4" fill="#fff" stroke="#111111" stroke-width="0.95"/>
<circle cx="71.02" cy="675.60" r="1.4" fill="#fff" stroke="#111111" stroke-width="0.95"/>
<circle cx="77.30" cy="675.20" r="1.4" fill="#fff" stroke="#111111" stroke-width="0.95"/>
<circle cx="83.57" cy="672.10" r="1.4" fill="#fff" stroke="#111111" stroke-width="0.95"/>
<circle cx="89.84" cy="670.80" r="1.4" fill="#fff" stroke="#111111" stroke-width="0.95"/>
<circle cx="96.12" cy="669.10" r="1.4" fill="#fff" stroke="#111111" stroke-width="0.95"/>
<circle cx="102.39" cy="669.10" r="1.4" fill="#fff" stroke="#111111" stroke-width="0.95"/>
<circle cx="108.67" cy="670.40" r="1.4" fill="#fff" stroke="#111111" stroke-width="0.95"/>
<circle cx="114.94" cy="671.80" r="1.4" fill="#fff" stroke="#111111" stroke-width="0.95"/>
<circle cx="121.21" cy="673.50" r="1.4" fill="#fff" stroke="#111111" stroke-width="0.95"/>
<circle cx="127.49" cy="675.90" r="1.4" fill="#fff" stroke="#111111" stroke-width="0.95"/>
<circle cx="133.76" cy="677.60" r="1.4" fill="#fff" stroke="#111111" stroke-width="0.95"/>
<circle cx="140.04" cy="679.50" r="1.4" fill="#fff" stroke="#111111" stroke-width="0.95"/>
<circle cx="146.31" cy="681.90" r="1.4" fill="#fff" stroke="#111111" stroke-width="0.95"/>
<circle cx="152.58" cy="683.60" r="1.4" fill="#fff" stroke="#111111" stroke-width="0.95"/>
<circle cx="158.86" cy="685.40" r="1.4" fill="#fff" stroke="#111111" stroke-width="0.95"/>
<circle cx="165.13" cy="687.10" r="1.4" fill="#fff" stroke="#111111" stroke-width="0.95"/>
<circle cx="171.41" cy="689.50" r="1.4" fill="#fff" stroke="#111111" stroke-width="0.95"/>
<path d="M52.20,659.90 L58.47,659.70 L64.75,659.90 L71.02,660.60 L77.30,660.60 L83.57,660.70 L89.84,661.10 L96.12,661.60 L102.39,661.90 L108.67,662.30 L114.94,663.60 L121.21,665.30 L127.49,667.90 L133.76,670.80 L140.04,674.70 L146.31,677.60 L152.58,685.80 L158.86,694.30 L165.13,702.30 L171.41,709.60" fill="none" stroke="#9a10d0" stroke-width="0.7" opacity="0.85"/>
<circle cx="52.20" cy="659.90" r="1.4" fill="#9a10d0"/>
<circle cx="58.47" cy="659.70" r="1.4" fill="#9a10d0"/>
<circle cx="64.75" cy="659.90" r="1.4" fill="#9a10d0"/>
<circle cx="71.02" cy="660.60" r="1.4" fill="#9a10d0"/>
<circle cx="77.30" cy="660.60" r="1.4" fill="#9a10d0"/>
<circle cx="83.57" cy="660.70" r="1.4" fill="#9a10d0"/>
<circle cx="89.84" cy="661.10" r="1.4" fill="#9a10d0"/>
<circle cx="96.12" cy="661.60" r="1.4" fill="#9a10d0"/>
<circle cx="102.39" cy="661.90" r="1.4" fill="#9a10d0"/>
<circle cx="108.67" cy="662.30" r="1.4" fill="#9a10d0"/>
<circle cx="114.94" cy="663.60" r="1.4" fill="#9a10d0"/>
<circle cx="121.21" cy="665.30" r="1.4" fill="#9a10d0"/>
<circle cx="127.49" cy="667.90" r="1.4" fill="#9a10d0"/>
<circle cx="133.76" cy="670.80" r="1.4" fill="#9a10d0"/>
<circle cx="140.04" cy="674.70" r="1.4" fill="#9a10d0"/>
<circle cx="146.31" cy="677.60" r="1.4" fill="#9a10d0"/>
<circle cx="152.58" cy="685.80" r="1.4" fill="#9a10d0"/>
<circle cx="158.86" cy="694.30" r="1.4" fill="#9a10d0"/>
<circle cx="165.13" cy="702.30" r="1.4" fill="#9a10d0"/>
<circle cx="171.41" cy="709.60" r="1.4" fill="#9a10d0"/>
<path d="M52.20,657.30 L58.47,657.70 L64.75,657.70 L71.02,658.20 L77.30,659.40 L83.57,660.60 L89.84,662.80 L96.12,666.20 L102.39,669.10 L108.67,673.00 L114.94,676.90 L121.21,680.70 L127.49,684.10 L133.76,687.50 L140.04,690.90 L146.31,694.00 L152.58,696.30 L158.86,699.40 L165.13,702.50 L171.41,705.90" fill="none" stroke="#111111" stroke-width="0.7" opacity="0.85"/>
<circle cx="52.20" cy="657.30" r="1.4" fill="#111111"/>
<circle cx="58.47" cy="657.70" r="1.4" fill="#111111"/>
<circle cx="64.75" cy="657.70" r="1.4" fill="#111111"/>
<circle cx="71.02" cy="658.20" r="1.4" fill="#111111"/>
<circle cx="77.30" cy="659.40" r="1.4" fill="#111111"/>
<circle cx="83.57" cy="660.60" r="1.4" fill="#111111"/>
<circle cx="89.84" cy="662.80" r="1.4" fill="#111111"/>
<circle cx="96.12" cy="666.20" r="1.4" fill="#111111"/>
<circle cx="102.39" cy="669.10" r="1.4" fill="#111111"/>
<circle cx="108.67" cy="673.00" r="1.4" fill="#111111"/>
<circle cx="114.94" cy="676.90" r="1.4" fill="#111111"/>
<circle cx="121.21" cy="680.70" r="1.4" fill="#111111"/>
<circle cx="127.49" cy="684.10" r="1.4" fill="#111111"/>
<circle cx="133.76" cy="687.50" r="1.4" fill="#111111"/>
<circle cx="140.04" cy="690.90" r="1.4" fill="#111111"/>
<circle cx="146.31" cy="694.00" r="1.4" fill="#111111"/>
<circle cx="152.58" cy="696.30" r="1.4" fill="#111111"/>
<circle cx="158.86" cy="699.40" r="1.4" fill="#111111"/>
<circle cx="165.13" cy="702.50" r="1.4" fill="#111111"/>
<circle cx="171.41" cy="705.90" r="1.4" fill="#111111"/>
<path d="M52.20,614.70 L58.47,614.10 L64.75,613.30 L71.02,612.10 L77.30,611.10 L83.57,609.90 L89.84,609.40 L96.12,610.40 L102.39,613.30 L108.67,615.90 L114.94,619.30 L121.21,623.00 L127.49,626.90 L133.76,631.20 L140.04,635.40 L146.31,640.20 L152.58,644.80 L158.86,649.40 L165.13,653.80 L171.41,658.20" fill="none" stroke="#0a0aff" stroke-width="0.7" opacity="0.85"/>
<circle cx="52.20" cy="614.70" r="1.4" fill="#fff" stroke="#0a0aff" stroke-width="0.95"/>
<circle cx="58.47" cy="614.10" r="1.4" fill="#fff" stroke="#0a0aff" stroke-width="0.95"/>
<circle cx="64.75" cy="613.30" r="1.4" fill="#fff" stroke="#0a0aff" stroke-width="0.95"/>
<circle cx="71.02" cy="612.10" r="1.4" fill="#fff" stroke="#0a0aff" stroke-width="0.95"/>
<circle cx="77.30" cy="611.10" r="1.4" fill="#fff" stroke="#0a0aff" stroke-width="0.95"/>
<circle cx="83.57" cy="609.90" r="1.4" fill="#fff" stroke="#0a0aff" stroke-width="0.95"/>
<circle cx="89.84" cy="609.40" r="1.4" fill="#fff" stroke="#0a0aff" stroke-width="0.95"/>
<circle cx="96.12" cy="610.40" r="1.4" fill="#fff" stroke="#0a0aff" stroke-width="0.95"/>
<circle cx="102.39" cy="613.30" r="1.4" fill="#fff" stroke="#0a0aff" stroke-width="0.95"/>
<circle cx="108.67" cy="615.90" r="1.4" fill="#fff" stroke="#0a0aff" stroke-width="0.95"/>
<circle cx="114.94" cy="619.30" r="1.4" fill="#fff" stroke="#0a0aff" stroke-width="0.95"/>
<circle cx="121.21" cy="623.00" r="1.4" fill="#fff" stroke="#0a0aff" stroke-width="0.95"/>
<circle cx="127.49" cy="626.90" r="1.4" fill="#fff" stroke="#0a0aff" stroke-width="0.95"/>
<circle cx="133.76" cy="631.20" r="1.4" fill="#fff" stroke="#0a0aff" stroke-width="0.95"/>
<circle cx="140.04" cy="635.40" r="1.4" fill="#fff" stroke="#0a0aff" stroke-width="0.95"/>
<circle cx="146.31" cy="640.20" r="1.4" fill="#fff" stroke="#0a0aff" stroke-width="0.95"/>
<circle cx="152.58" cy="644.80" r="1.4" fill="#fff" stroke="#0a0aff" stroke-width="0.95"/>
<circle cx="158.86" cy="649.40" r="1.4" fill="#fff" stroke="#0a0aff" stroke-width="0.95"/>
<circle cx="165.13" cy="653.80" r="1.4" fill="#fff" stroke="#0a0aff" stroke-width="0.95"/>
<circle cx="171.41" cy="658.20" r="1.4" fill="#fff" stroke="#0a0aff" stroke-width="0.95"/>
<path d="M52.20,598.50 L58.47,598.50 L64.75,598.80 L71.02,599.70 L77.30,600.90 L83.57,603.10 L89.84,606.00 L96.12,609.90 L102.39,614.50 L108.67,620.60 L114.94,626.10 L121.21,632.00 L127.49,637.70 L133.76,643.60 L140.04,650.60 L146.31,657.20 L152.58,664.50 L158.86,671.80 L165.13,680.30 L171.41,688.30" fill="none" stroke="#0a0aff" stroke-width="0.7" opacity="0.85"/>
<circle cx="52.20" cy="598.50" r="1.4" fill="#0a0aff"/>
<circle cx="58.47" cy="598.50" r="1.4" fill="#0a0aff"/>
<circle cx="64.75" cy="598.80" r="1.4" fill="#0a0aff"/>
<circle cx="71.02" cy="599.70" r="1.4" fill="#0a0aff"/>
<circle cx="77.30" cy="600.90" r="1.4" fill="#0a0aff"/>
<circle cx="83.57" cy="603.10" r="1.4" fill="#0a0aff"/>
<circle cx="89.84" cy="606.00" r="1.4" fill="#0a0aff"/>
<circle cx="96.12" cy="609.90" r="1.4" fill="#0a0aff"/>
<circle cx="102.39" cy="614.50" r="1.4" fill="#0a0aff"/>
<circle cx="108.67" cy="620.60" r="1.4" fill="#0a0aff"/>
<circle cx="114.94" cy="626.10" r="1.4" fill="#0a0aff"/>
<circle cx="121.21" cy="632.00" r="1.4" fill="#0a0aff"/>
<circle cx="127.49" cy="637.70" r="1.4" fill="#0a0aff"/>
<circle cx="133.76" cy="643.60" r="1.4" fill="#0a0aff"/>
<circle cx="140.04" cy="650.60" r="1.4" fill="#0a0aff"/>
<circle cx="146.31" cy="657.20" r="1.4" fill="#0a0aff"/>
<circle cx="152.58" cy="664.50" r="1.4" fill="#0a0aff"/>
<circle cx="158.86" cy="671.80" r="1.4" fill="#0a0aff"/>
<circle cx="165.13" cy="680.30" r="1.4" fill="#0a0aff"/>
<circle cx="171.41" cy="688.30" r="1.4" fill="#0a0aff"/>
<rect x="234.80" y="593.60" width="129.40" height="129.20" fill="none" stroke="#1a1a1a" stroke-width="1.5"/>
<line x1="232.80" y1="722.80" x2="234.80" y2="722.80" stroke="#111" stroke-width="1"/>
<text transform="translate(223.98,727.80) scale(1.0,1)" font-size="12" text-anchor="end" font-weight="bold">10</text>
<text transform="translate(230.90,723.80) scale(1,0.72)" font-size="7" text-anchor="end" font-weight="bold">-1</text>
<line x1="232.80" y1="696.96" x2="234.80" y2="696.96" stroke="#111" stroke-width="1"/>
<text transform="translate(226.31,701.96) scale(1.0,1)" font-size="12" text-anchor="end" font-weight="bold">10</text>
<text transform="translate(230.90,697.96) scale(1,0.72)" font-size="7" text-anchor="end" font-weight="bold">0</text>
<line x1="232.80" y1="671.12" x2="234.80" y2="671.12" stroke="#111" stroke-width="1"/>
<text transform="translate(226.31,676.12) scale(1.0,1)" font-size="12" text-anchor="end" font-weight="bold">10</text>
<text transform="translate(230.90,672.12) scale(1,0.72)" font-size="7" text-anchor="end" font-weight="bold">1</text>
<line x1="232.80" y1="645.28" x2="234.80" y2="645.28" stroke="#111" stroke-width="1"/>
<text transform="translate(226.31,650.28) scale(1.0,1)" font-size="12" text-anchor="end" font-weight="bold">10</text>
<text transform="translate(230.90,646.28) scale(1,0.72)" font-size="7" text-anchor="end" font-weight="bold">2</text>
<line x1="232.80" y1="619.44" x2="234.80" y2="619.44" stroke="#111" stroke-width="1"/>
<text transform="translate(226.31,624.44) scale(1.0,1)" font-size="12" text-anchor="end" font-weight="bold">10</text>
<text transform="translate(230.90,620.44) scale(1,0.72)" font-size="7" text-anchor="end" font-weight="bold">3</text>
<line x1="232.80" y1="593.60" x2="234.80" y2="593.60" stroke="#111" stroke-width="1"/>
<text transform="translate(226.31,598.60) scale(1.0,1)" font-size="12" text-anchor="end" font-weight="bold">10</text>
<text transform="translate(230.90,594.60) scale(1,0.72)" font-size="7" text-anchor="end" font-weight="bold">4</text>
<line x1="234.80" y1="722.80" x2="234.80" y2="724.80" stroke="#111" stroke-width="1"/>
<text transform="translate(224.81,737.65) scale(1.0,1)" font-size="12" font-weight="bold">10</text>
<text transform="translate(239.35,733.90) scale(1,0.95)" font-size="6.8" font-weight="bold">-1</text>
<line x1="266.15" y1="722.80" x2="266.15" y2="724.80" stroke="#111" stroke-width="1"/>
<text transform="translate(257.29,737.65) scale(1.0,1)" font-size="12" font-weight="bold">10</text>
<text transform="translate(271.83,733.90) scale(1,0.95)" font-size="6.8" font-weight="bold">0</text>
<line x1="297.50" y1="722.80" x2="297.50" y2="724.80" stroke="#111" stroke-width="1"/>
<text transform="translate(288.64,737.65) scale(1.0,1)" font-size="12" font-weight="bold">10</text>
<text transform="translate(303.18,733.90) scale(1,0.95)" font-size="6.8" font-weight="bold">1</text>
<line x1="328.85" y1="722.80" x2="328.85" y2="724.80" stroke="#111" stroke-width="1"/>
<text transform="translate(319.99,737.65) scale(1.0,1)" font-size="12" font-weight="bold">10</text>
<text transform="translate(334.53,733.90) scale(1,0.95)" font-size="6.8" font-weight="bold">2</text>
<line x1="360.20" y1="722.80" x2="360.20" y2="724.80" stroke="#111" stroke-width="1"/>
<text transform="translate(351.34,737.65) scale(1.0,1)" font-size="12" font-weight="bold">10</text>
<text transform="translate(365.88,733.90) scale(1,0.95)" font-size="6.8" font-weight="bold">3</text>
<text transform="translate(203.50,655.00) rotate(-90)" font-size="12.2" text-anchor="middle" font-weight="bold">Modulus (Pa)</text>
<text x="299.00" y="752.80" font-size="12.2" text-anchor="middle" font-weight="bold" >Shear strain (%)</text>
<path d="M241.40,681.70 L247.67,680.40 L253.95,683.40 L260.22,686.30 L266.50,684.60 L272.77,684.60 L279.04,684.60 L285.32,684.60 L291.59,684.60 L297.87,685.30 L304.14,685.30 L310.41,685.30 L316.69,685.30 L322.96,685.30 L329.24,685.30 L335.51,686.50 L341.78,688.80 L348.06,690.50 L354.33,693.00 L360.61,696.50" fill="none" stroke="#0f6680" stroke-width="0.7" opacity="0.85"/>
<circle cx="241.40" cy="681.70" r="1.4" fill="#fff" stroke="#0f6680" stroke-width="0.95"/>
<circle cx="247.67" cy="680.40" r="1.4" fill="#fff" stroke="#0f6680" stroke-width="0.95"/>
<circle cx="253.95" cy="683.40" r="1.4" fill="#fff" stroke="#0f6680" stroke-width="0.95"/>
<circle cx="260.22" cy="686.30" r="1.4" fill="#fff" stroke="#0f6680" stroke-width="0.95"/>
<circle cx="266.50" cy="684.60" r="1.4" fill="#fff" stroke="#0f6680" stroke-width="0.95"/>
<circle cx="272.77" cy="684.60" r="1.4" fill="#fff" stroke="#0f6680" stroke-width="0.95"/>
<circle cx="279.04" cy="684.60" r="1.4" fill="#fff" stroke="#0f6680" stroke-width="0.95"/>
<circle cx="285.32" cy="684.60" r="1.4" fill="#fff" stroke="#0f6680" stroke-width="0.95"/>
<circle cx="291.59" cy="684.60" r="1.4" fill="#fff" stroke="#0f6680" stroke-width="0.95"/>
<circle cx="297.87" cy="685.30" r="1.4" fill="#fff" stroke="#0f6680" stroke-width="0.95"/>
<circle cx="304.14" cy="685.30" r="1.4" fill="#fff" stroke="#0f6680" stroke-width="0.95"/>
<circle cx="310.41" cy="685.30" r="1.4" fill="#fff" stroke="#0f6680" stroke-width="0.95"/>
<circle cx="316.69" cy="685.30" r="1.4" fill="#fff" stroke="#0f6680" stroke-width="0.95"/>
<circle cx="322.96" cy="685.30" r="1.4" fill="#fff" stroke="#0f6680" stroke-width="0.95"/>
<circle cx="329.24" cy="685.30" r="1.4" fill="#fff" stroke="#0f6680" stroke-width="0.95"/>
<circle cx="335.51" cy="686.50" r="1.4" fill="#fff" stroke="#0f6680" stroke-width="0.95"/>
<circle cx="341.78" cy="688.80" r="1.4" fill="#fff" stroke="#0f6680" stroke-width="0.95"/>
<circle cx="348.06" cy="690.50" r="1.4" fill="#fff" stroke="#0f6680" stroke-width="0.95"/>
<circle cx="354.33" cy="693.00" r="1.4" fill="#fff" stroke="#0f6680" stroke-width="0.95"/>
<circle cx="360.61" cy="696.50" r="1.4" fill="#fff" stroke="#0f6680" stroke-width="0.95"/>
<path d="M241.40,681.40 L247.67,676.60 L253.95,676.60 L260.22,676.60 L266.50,678.30 L272.77,679.20 L279.04,679.20 L285.32,678.30 L291.59,678.30 L297.87,677.80 L304.14,677.70 L310.41,677.70 L316.69,677.70 L322.96,677.70 L329.24,677.70 L335.51,680.40 L341.78,684.70 L348.06,689.10 L354.33,690.00 L360.61,692.60" fill="none" stroke="#10b810" stroke-width="0.7" opacity="0.85"/>
<circle cx="241.40" cy="681.40" r="1.4" fill="#fff" stroke="#10b810" stroke-width="0.95"/>
<circle cx="247.67" cy="676.60" r="1.4" fill="#fff" stroke="#10b810" stroke-width="0.95"/>
<circle cx="253.95" cy="676.60" r="1.4" fill="#fff" stroke="#10b810" stroke-width="0.95"/>
<circle cx="260.22" cy="676.60" r="1.4" fill="#fff" stroke="#10b810" stroke-width="0.95"/>
<circle cx="266.50" cy="678.30" r="1.4" fill="#fff" stroke="#10b810" stroke-width="0.95"/>
<circle cx="272.77" cy="679.20" r="1.4" fill="#fff" stroke="#10b810" stroke-width="0.95"/>
<circle cx="279.04" cy="679.20" r="1.4" fill="#fff" stroke="#10b810" stroke-width="0.95"/>
<circle cx="285.32" cy="678.30" r="1.4" fill="#fff" stroke="#10b810" stroke-width="0.95"/>
<circle cx="291.59" cy="678.30" r="1.4" fill="#fff" stroke="#10b810" stroke-width="0.95"/>
<circle cx="297.87" cy="677.80" r="1.4" fill="#fff" stroke="#10b810" stroke-width="0.95"/>
<circle cx="304.14" cy="677.70" r="1.4" fill="#fff" stroke="#10b810" stroke-width="0.95"/>
<circle cx="310.41" cy="677.70" r="1.4" fill="#fff" stroke="#10b810" stroke-width="0.95"/>
<circle cx="316.69" cy="677.70" r="1.4" fill="#fff" stroke="#10b810" stroke-width="0.95"/>
<circle cx="322.96" cy="677.70" r="1.4" fill="#fff" stroke="#10b810" stroke-width="0.95"/>
<circle cx="329.24" cy="677.70" r="1.4" fill="#fff" stroke="#10b810" stroke-width="0.95"/>
<circle cx="335.51" cy="680.40" r="1.4" fill="#fff" stroke="#10b810" stroke-width="0.95"/>
<circle cx="341.78" cy="684.70" r="1.4" fill="#fff" stroke="#10b810" stroke-width="0.95"/>
<circle cx="348.06" cy="689.10" r="1.4" fill="#fff" stroke="#10b810" stroke-width="0.95"/>
<circle cx="354.33" cy="690.00" r="1.4" fill="#fff" stroke="#10b810" stroke-width="0.95"/>
<circle cx="360.61" cy="692.60" r="1.4" fill="#fff" stroke="#10b810" stroke-width="0.95"/>
<path d="M241.40,673.20 L247.67,673.60 L253.95,671.50 L260.22,672.70 L266.50,673.60 L272.77,673.60 L279.04,673.60 L285.32,673.60 L291.59,673.60 L297.87,673.30 L304.14,673.30 L310.41,673.30 L316.69,673.30 L322.96,673.30 L329.24,673.00 L335.51,675.10 L341.78,677.20 L348.06,680.40 L354.33,683.90 L360.61,687.40" fill="none" stroke="#3c96ff" stroke-width="0.7" opacity="0.85"/>
<circle cx="241.40" cy="673.20" r="1.4" fill="#fff" stroke="#3c96ff" stroke-width="0.95"/>
<circle cx="247.67" cy="673.60" r="1.4" fill="#fff" stroke="#3c96ff" stroke-width="0.95"/>
<circle cx="253.95" cy="671.50" r="1.4" fill="#fff" stroke="#3c96ff" stroke-width="0.95"/>
<circle cx="260.22" cy="672.70" r="1.4" fill="#fff" stroke="#3c96ff" stroke-width="0.95"/>
<circle cx="266.50" cy="673.60" r="1.4" fill="#fff" stroke="#3c96ff" stroke-width="0.95"/>
<circle cx="272.77" cy="673.60" r="1.4" fill="#fff" stroke="#3c96ff" stroke-width="0.95"/>
<circle cx="279.04" cy="673.60" r="1.4" fill="#fff" stroke="#3c96ff" stroke-width="0.95"/>
<circle cx="285.32" cy="673.60" r="1.4" fill="#fff" stroke="#3c96ff" stroke-width="0.95"/>
<circle cx="291.59" cy="673.60" r="1.4" fill="#fff" stroke="#3c96ff" stroke-width="0.95"/>
<circle cx="297.87" cy="673.30" r="1.4" fill="#fff" stroke="#3c96ff" stroke-width="0.95"/>
<circle cx="304.14" cy="673.30" r="1.4" fill="#fff" stroke="#3c96ff" stroke-width="0.95"/>
<circle cx="310.41" cy="673.30" r="1.4" fill="#fff" stroke="#3c96ff" stroke-width="0.95"/>
<circle cx="316.69" cy="673.30" r="1.4" fill="#fff" stroke="#3c96ff" stroke-width="0.95"/>
<circle cx="322.96" cy="673.30" r="1.4" fill="#fff" stroke="#3c96ff" stroke-width="0.95"/>
<circle cx="329.24" cy="673.00" r="1.4" fill="#fff" stroke="#3c96ff" stroke-width="0.95"/>
<circle cx="335.51" cy="675.10" r="1.4" fill="#fff" stroke="#3c96ff" stroke-width="0.95"/>
<circle cx="341.78" cy="677.20" r="1.4" fill="#fff" stroke="#3c96ff" stroke-width="0.95"/>
<circle cx="348.06" cy="680.40" r="1.4" fill="#fff" stroke="#3c96ff" stroke-width="0.95"/>
<circle cx="354.33" cy="683.90" r="1.4" fill="#fff" stroke="#3c96ff" stroke-width="0.95"/>
<circle cx="360.61" cy="687.40" r="1.4" fill="#fff" stroke="#3c96ff" stroke-width="0.95"/>
<path d="M241.40,672.70 L247.67,674.10 L253.95,676.10 L260.22,676.10 L266.50,676.30 L272.77,676.60 L279.04,676.60 L285.32,676.60 L291.59,676.60 L297.87,677.70 L304.14,677.70 L310.41,677.70 L316.69,677.70 L322.96,679.50 L329.24,681.80 L335.51,686.50 L341.78,690.90 L348.06,695.80 L354.33,701.80 L360.61,707.50" fill="none" stroke="#0f6680" stroke-width="0.7" opacity="0.85"/>
<circle cx="241.40" cy="672.70" r="1.4" fill="#0f6680"/>
<circle cx="247.67" cy="674.10" r="1.4" fill="#0f6680"/>
<circle cx="253.95" cy="676.10" r="1.4" fill="#0f6680"/>
<circle cx="260.22" cy="676.10" r="1.4" fill="#0f6680"/>
<circle cx="266.50" cy="676.30" r="1.4" fill="#0f6680"/>
<circle cx="272.77" cy="676.60" r="1.4" fill="#0f6680"/>
<circle cx="279.04" cy="676.60" r="1.4" fill="#0f6680"/>
<circle cx="285.32" cy="676.60" r="1.4" fill="#0f6680"/>
<circle cx="291.59" cy="676.60" r="1.4" fill="#0f6680"/>
<circle cx="297.87" cy="677.70" r="1.4" fill="#0f6680"/>
<circle cx="304.14" cy="677.70" r="1.4" fill="#0f6680"/>
<circle cx="310.41" cy="677.70" r="1.4" fill="#0f6680"/>
<circle cx="316.69" cy="677.70" r="1.4" fill="#0f6680"/>
<circle cx="322.96" cy="679.50" r="1.4" fill="#0f6680"/>
<circle cx="329.24" cy="681.80" r="1.4" fill="#0f6680"/>
<circle cx="335.51" cy="686.50" r="1.4" fill="#0f6680"/>
<circle cx="341.78" cy="690.90" r="1.4" fill="#0f6680"/>
<circle cx="348.06" cy="695.80" r="1.4" fill="#0f6680"/>
<circle cx="354.33" cy="701.80" r="1.4" fill="#0f6680"/>
<circle cx="360.61" cy="707.50" r="1.4" fill="#0f6680"/>
<path d="M241.40,666.10 L247.67,667.60 L253.95,666.70 L260.22,666.70 L266.50,666.70 L272.77,666.90 L279.04,666.70 L285.32,666.70 L291.59,667.30 L297.87,667.50 L304.14,667.70 L310.41,668.90 L316.69,670.70 L322.96,673.00 L329.24,677.40 L335.51,682.10 L341.78,688.20 L348.06,695.30 L354.33,700.50 L360.61,704.00" fill="none" stroke="#10b810" stroke-width="0.7" opacity="0.85"/>
<circle cx="241.40" cy="666.10" r="1.4" fill="#10b810"/>
<circle cx="247.67" cy="667.60" r="1.4" fill="#10b810"/>
<circle cx="253.95" cy="666.70" r="1.4" fill="#10b810"/>
<circle cx="260.22" cy="666.70" r="1.4" fill="#10b810"/>
<circle cx="266.50" cy="666.70" r="1.4" fill="#10b810"/>
<circle cx="272.77" cy="666.90" r="1.4" fill="#10b810"/>
<circle cx="279.04" cy="666.70" r="1.4" fill="#10b810"/>
<circle cx="285.32" cy="666.70" r="1.4" fill="#10b810"/>
<circle cx="291.59" cy="667.30" r="1.4" fill="#10b810"/>
<circle cx="297.87" cy="667.50" r="1.4" fill="#10b810"/>
<circle cx="304.14" cy="667.70" r="1.4" fill="#10b810"/>
<circle cx="310.41" cy="668.90" r="1.4" fill="#10b810"/>
<circle cx="316.69" cy="670.70" r="1.4" fill="#10b810"/>
<circle cx="322.96" cy="673.00" r="1.4" fill="#10b810"/>
<circle cx="329.24" cy="677.40" r="1.4" fill="#10b810"/>
<circle cx="335.51" cy="682.10" r="1.4" fill="#10b810"/>
<circle cx="341.78" cy="688.20" r="1.4" fill="#10b810"/>
<circle cx="348.06" cy="695.30" r="1.4" fill="#10b810"/>
<circle cx="354.33" cy="700.50" r="1.4" fill="#10b810"/>
<circle cx="360.61" cy="704.00" r="1.4" fill="#10b810"/>
<path d="M241.40,660.10 L247.67,661.60 L253.95,661.00 L260.22,661.00 L266.50,660.40 L272.77,660.80 L279.04,660.60 L285.32,660.40 L291.59,660.60 L297.87,660.50 L304.14,660.70 L310.41,661.40 L316.69,662.30 L322.96,664.60 L329.24,668.90 L335.51,674.70 L341.78,681.20 L348.06,686.50 L354.33,694.00 L360.61,700.50" fill="none" stroke="#3c96ff" stroke-width="0.7" opacity="0.85"/>
<circle cx="241.40" cy="660.10" r="1.4" fill="#3c96ff"/>
<circle cx="247.67" cy="661.60" r="1.4" fill="#3c96ff"/>
<circle cx="253.95" cy="661.00" r="1.4" fill="#3c96ff"/>
<circle cx="260.22" cy="661.00" r="1.4" fill="#3c96ff"/>
<circle cx="266.50" cy="660.40" r="1.4" fill="#3c96ff"/>
<circle cx="272.77" cy="660.80" r="1.4" fill="#3c96ff"/>
<circle cx="279.04" cy="660.60" r="1.4" fill="#3c96ff"/>
<circle cx="285.32" cy="660.40" r="1.4" fill="#3c96ff"/>
<circle cx="291.59" cy="660.60" r="1.4" fill="#3c96ff"/>
<circle cx="297.87" cy="660.50" r="1.4" fill="#3c96ff"/>
<circle cx="304.14" cy="660.70" r="1.4" fill="#3c96ff"/>
<circle cx="310.41" cy="661.40" r="1.4" fill="#3c96ff"/>
<circle cx="316.69" cy="662.30" r="1.4" fill="#3c96ff"/>
<circle cx="322.96" cy="664.60" r="1.4" fill="#3c96ff"/>
<circle cx="329.24" cy="668.90" r="1.4" fill="#3c96ff"/>
<circle cx="335.51" cy="674.70" r="1.4" fill="#3c96ff"/>
<circle cx="341.78" cy="681.20" r="1.4" fill="#3c96ff"/>
<circle cx="348.06" cy="686.50" r="1.4" fill="#3c96ff"/>
<circle cx="354.33" cy="694.00" r="1.4" fill="#3c96ff"/>
<circle cx="360.61" cy="700.50" r="1.4" fill="#3c96ff"/>
<line x1="220.3" y1="235.60" x2="231.3" y2="235.60" stroke="#0a0aff" stroke-width="0.8"/>
<circle cx="225.8" cy="235.60" r="2" fill="#0a0aff"/>
<text x="237.50" y="239.90" font-size="10" text-anchor="start" font-weight="bold" >PF-127 25%</text>
<line x1="220.3" y1="252.55" x2="231.3" y2="252.55" stroke="#9a10d0" stroke-width="0.8"/>
<circle cx="225.8" cy="252.55" r="2" fill="#9a10d0"/>
<text x="237.50" y="256.85" font-size="10" text-anchor="start" font-weight="bold" >Gelatin Slurry 4.5%</text>
<line x1="220.3" y1="269.50" x2="231.3" y2="269.50" stroke="#111111" stroke-width="0.8"/>
<circle cx="225.8" cy="269.50" r="2" fill="#111111"/>
<text x="237.50" y="273.80" font-size="10" text-anchor="start" font-weight="bold" >Carbopol UltreZ20 0.1%</text>
<line x1="220.3" y1="286.45" x2="231.3" y2="286.45" stroke="#3c96ff" stroke-width="0.8"/>
<circle cx="225.8" cy="286.45" r="2" fill="#3c96ff"/>
<text x="237.50" y="290.75" font-size="10" text-anchor="start" font-weight="bold" >XG 1.0% + Gelatin 0.25%</text>
<line x1="220.3" y1="303.40" x2="231.3" y2="303.40" stroke="#10b810" stroke-width="0.8"/>
<circle cx="225.8" cy="303.40" r="2" fill="#10b810"/>
<text x="237.50" y="307.70" font-size="10" text-anchor="start" font-weight="bold" >XG 0.75% + Gelatin 0.25%</text>
<line x1="220.3" y1="320.35" x2="231.3" y2="320.35" stroke="#0f6680" stroke-width="0.8"/>
<circle cx="225.8" cy="320.35" r="2" fill="#0f6680"/>
<text x="237.50" y="324.65" font-size="10" text-anchor="start" font-weight="bold" >XG 0.50% + Gelatin 0.25%</text>
<line x1="1.40" y1="776.90" x2="12.00" y2="776.90" stroke="#9a10d0" stroke-width="0.9" opacity="0.6"/>
<circle cx="6.90" cy="776.90" r="2.2" fill="#9a10d0"/>
<text x="18.40" y="781.00" font-size="8.5" text-anchor="start" font-weight="bold" >G&#39; Gelatin slurry 4.5%</text>
<line x1="1.40" y1="787.80" x2="12.00" y2="787.80" stroke="#9a10d0" stroke-width="0.9" opacity="0.6"/>
<circle cx="6.90" cy="787.80" r="1.9" fill="#fff" stroke="#9a10d0" stroke-width="1.3"/>
<text x="18.40" y="791.90" font-size="8.5" text-anchor="start" font-weight="bold" >G&#39;&#39; Gelatin slurry 4.5%</text>
<line x1="1.40" y1="802.20" x2="12.00" y2="802.20" stroke="#3c96ff" stroke-width="0.9" opacity="0.6"/>
<circle cx="6.90" cy="802.20" r="2.2" fill="#3c96ff"/>
<text x="18.40" y="806.30" font-size="8.5" text-anchor="start" font-weight="bold" >G&#39; XG 1.0% + Gelatin 0.25%</text>
<line x1="1.40" y1="812.00" x2="12.00" y2="812.00" stroke="#3c96ff" stroke-width="0.9" opacity="0.6"/>
<circle cx="6.90" cy="812.00" r="1.9" fill="#fff" stroke="#3c96ff" stroke-width="1.3"/>
<text x="18.40" y="816.10" font-size="8.5" text-anchor="start" font-weight="bold" >G&#39;&#39; XG 1.0% + Gelatin 0.25%</text>
<line x1="133.90" y1="776.90" x2="144.50" y2="776.90" stroke="#111111" stroke-width="0.9" opacity="0.6"/>
<circle cx="139.40" cy="776.90" r="2.2" fill="#111111"/>
<text x="151.00" y="781.00" font-size="8.5" text-anchor="start" font-weight="bold" >G&#39; Carbopol 0.1%</text>
<line x1="133.90" y1="787.80" x2="144.50" y2="787.80" stroke="#111111" stroke-width="0.9" opacity="0.6"/>
<circle cx="139.40" cy="787.80" r="1.9" fill="#fff" stroke="#111111" stroke-width="1.3"/>
<text x="151.00" y="791.90" font-size="8.5" text-anchor="start" font-weight="bold" >G&#39;&#39; Carbopol 0.1%</text>
<line x1="133.90" y1="802.20" x2="144.50" y2="802.20" stroke="#10b810" stroke-width="0.9" opacity="0.6"/>
<circle cx="139.40" cy="802.20" r="2.2" fill="#10b810"/>
<text x="151.00" y="806.30" font-size="8.5" text-anchor="start" font-weight="bold" >G&#39; XG 0.75% + Gelatin 0.25%</text>
<line x1="133.90" y1="812.00" x2="144.50" y2="812.00" stroke="#10b810" stroke-width="0.9" opacity="0.6"/>
<circle cx="139.40" cy="812.00" r="1.9" fill="#fff" stroke="#10b810" stroke-width="1.3"/>
<text x="151.00" y="816.10" font-size="8.5" text-anchor="start" font-weight="bold" >G&#39;&#39; XG 0.75% + Gelatin 0.25%</text>
<line x1="270.00" y1="776.90" x2="280.60" y2="776.90" stroke="#0a0aff" stroke-width="0.9" opacity="0.6"/>
<circle cx="275.50" cy="776.90" r="2.2" fill="#0a0aff"/>
<text x="286.70" y="781.00" font-size="8.5" text-anchor="start" font-weight="bold" >G&#39; PF-127 25%</text>
<line x1="270.00" y1="787.80" x2="280.60" y2="787.80" stroke="#0a0aff" stroke-width="0.9" opacity="0.6"/>
<circle cx="275.50" cy="787.80" r="1.9" fill="#fff" stroke="#0a0aff" stroke-width="1.3"/>
<text x="286.70" y="791.90" font-size="8.5" text-anchor="start" font-weight="bold" >G&#39;&#39; PF-127 25%</text>
<line x1="270.00" y1="802.20" x2="280.60" y2="802.20" stroke="#0f6680" stroke-width="0.9" opacity="0.6"/>
<circle cx="275.50" cy="802.20" r="2.2" fill="#0f6680"/>
<text x="286.70" y="806.30" font-size="8.5" text-anchor="start" font-weight="bold" >G&#39; XG 0.5% + Gelatin 0.25%</text>
<line x1="270.00" y1="812.00" x2="280.60" y2="812.00" stroke="#0f6680" stroke-width="0.9" opacity="0.6"/>
<circle cx="275.50" cy="812.00" r="1.9" fill="#fff" stroke="#0f6680" stroke-width="1.3"/>
<text x="286.70" y="816.10" font-size="8.5" text-anchor="start" font-weight="bold" >G&#39;&#39; XG 0.5% + Gelatin 0.25%</text>
</svg>
</body></html>
